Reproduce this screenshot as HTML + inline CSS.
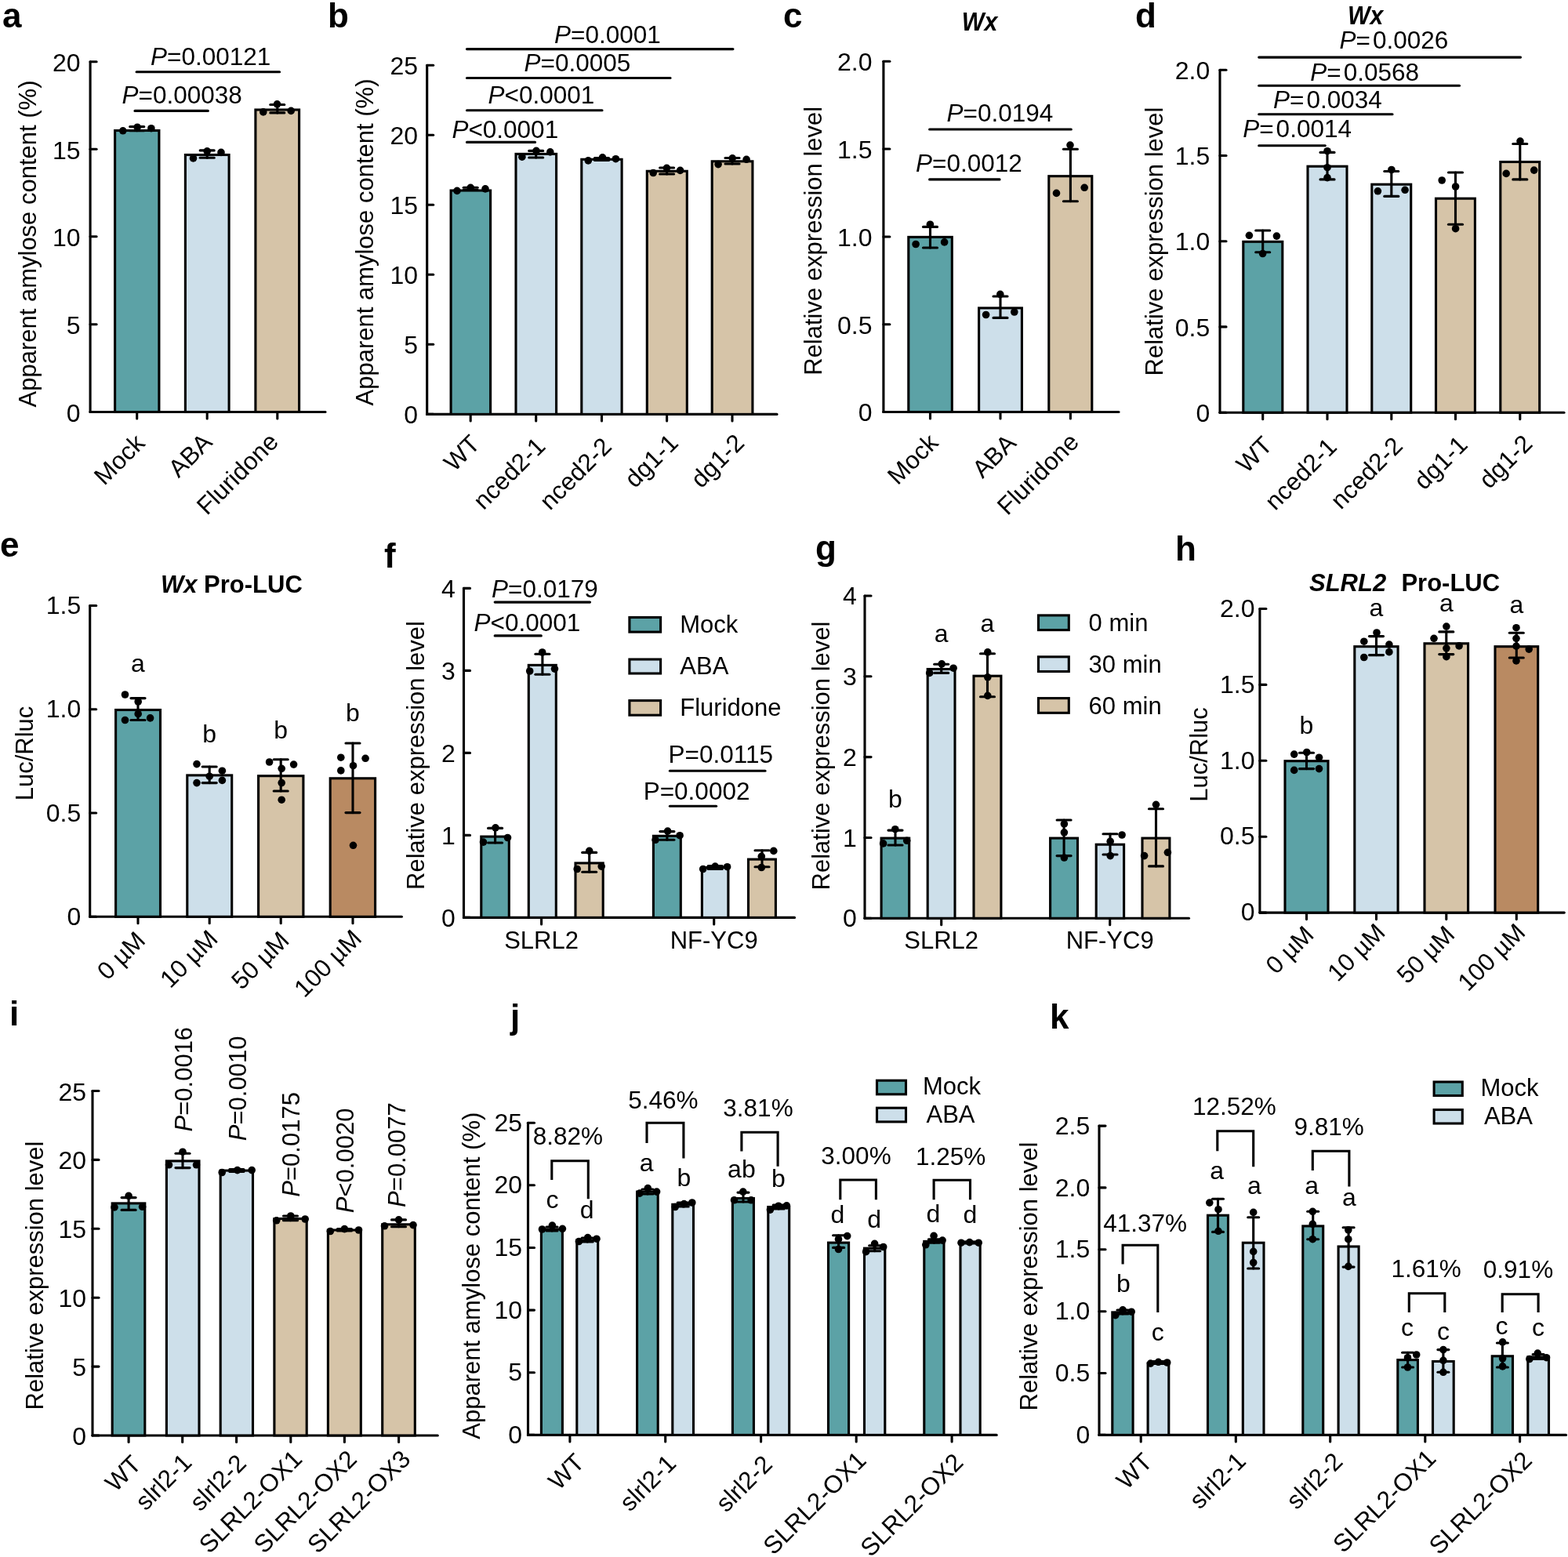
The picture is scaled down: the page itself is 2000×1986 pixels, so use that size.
<!DOCTYPE html><html><head><meta charset="utf-8"><title>Figure</title><style>html,body{margin:0;padding:0;background:#fff;}svg{display:block;}text{font-family:'Liberation Sans', Arial, sans-serif;fill:#000;}</style></head><body>
<svg width="2000" height="1986" viewBox="0 0 2000 1986">
<rect width="2000" height="1986" fill="#fff"/>
<text x="3.0" y="34.5" font-size="44" font-weight="bold">a</text>
<line x1="115.1" y1="78.8" x2="115.1" y2="525.5" stroke="#000" stroke-width="3.1" stroke-linecap="round"/>
<line x1="115.1" y1="78.8" x2="123.1" y2="78.8" stroke="#000" stroke-width="3.1" stroke-linecap="round"/>
<text x="102.6" y="91.1" font-size="32" text-anchor="end">20</text>
<line x1="115.1" y1="190.2" x2="123.1" y2="190.2" stroke="#000" stroke-width="3.1" stroke-linecap="round"/>
<text x="102.6" y="202.5" font-size="32" text-anchor="end">15</text>
<line x1="115.1" y1="301.8" x2="123.1" y2="301.8" stroke="#000" stroke-width="3.1" stroke-linecap="round"/>
<text x="102.6" y="314.1" font-size="32" text-anchor="end">10</text>
<line x1="115.1" y1="413.8" x2="123.1" y2="413.8" stroke="#000" stroke-width="3.1" stroke-linecap="round"/>
<text x="102.6" y="426.1" font-size="32" text-anchor="end">5</text>
<line x1="115.1" y1="525.5" x2="123.1" y2="525.5" stroke="#000" stroke-width="3.1" stroke-linecap="round"/>
<text x="102.6" y="537.8" font-size="32" text-anchor="end">0</text>
<line x1="115.1" y1="525.5" x2="415.0" y2="525.5" stroke="#000" stroke-width="3.1" stroke-linecap="round"/>
<line x1="174.7" y1="525.5" x2="174.7" y2="534.0" stroke="#000" stroke-width="3.1" stroke-linecap="round"/>
<line x1="264.2" y1="525.5" x2="264.2" y2="534.0" stroke="#000" stroke-width="3.1" stroke-linecap="round"/>
<line x1="353.8" y1="525.5" x2="353.8" y2="534.0" stroke="#000" stroke-width="3.1" stroke-linecap="round"/>
<rect x="146.6" y="166.5" width="56.3" height="359.0" fill="#5CA2A6" stroke="#000" stroke-width="3.1"/>
<rect x="236.4" y="197.5" width="55.7" height="328.0" fill="#CDDFEA" stroke="#000" stroke-width="3.1"/>
<rect x="325.9" y="140.0" width="55.7" height="385.5" fill="#D6C4A8" stroke="#000" stroke-width="3.1"/>
<line x1="174.7" y1="161.6" x2="174.7" y2="166.8" stroke="#000" stroke-width="3.1" stroke-linecap="round"/>
<line x1="165.7" y1="161.6" x2="183.7" y2="161.6" stroke="#000" stroke-width="3.1" stroke-linecap="round"/>
<line x1="165.7" y1="166.8" x2="183.7" y2="166.8" stroke="#000" stroke-width="3.1" stroke-linecap="round"/>
<circle cx="156.8" cy="166.8" r="4.8" fill="#000"/>
<circle cx="175.2" cy="162.2" r="4.8" fill="#000"/>
<circle cx="192.9" cy="163.7" r="4.8" fill="#000"/>
<line x1="264.2" y1="191.9" x2="264.2" y2="201.3" stroke="#000" stroke-width="3.1" stroke-linecap="round"/>
<line x1="255.2" y1="191.9" x2="273.2" y2="191.9" stroke="#000" stroke-width="3.1" stroke-linecap="round"/>
<line x1="255.2" y1="201.3" x2="273.2" y2="201.3" stroke="#000" stroke-width="3.1" stroke-linecap="round"/>
<circle cx="246.5" cy="201.9" r="4.8" fill="#000"/>
<circle cx="264.2" cy="192.9" r="4.8" fill="#000"/>
<circle cx="282.0" cy="194.4" r="4.8" fill="#000"/>
<line x1="353.8" y1="133.5" x2="353.8" y2="143.9" stroke="#000" stroke-width="3.1" stroke-linecap="round"/>
<line x1="344.8" y1="133.5" x2="362.8" y2="133.5" stroke="#000" stroke-width="3.1" stroke-linecap="round"/>
<line x1="344.8" y1="143.9" x2="362.8" y2="143.9" stroke="#000" stroke-width="3.1" stroke-linecap="round"/>
<circle cx="335.8" cy="142.9" r="4.8" fill="#000"/>
<circle cx="353.5" cy="132.8" r="4.8" fill="#000"/>
<circle cx="371.2" cy="141.4" r="4.8" fill="#000"/>
<line x1="174.1" y1="91.8" x2="356.6" y2="91.8" stroke="#000" stroke-width="3.1" stroke-linecap="round"/>
<text x="192.0" y="83.0" font-size="31.5"><tspan font-style="italic">P</tspan>=0.00121</text>
<line x1="172.0" y1="141.4" x2="265.3" y2="141.4" stroke="#000" stroke-width="3.1" stroke-linecap="round"/>
<text x="155.5" y="131.8" font-size="31.5"><tspan font-style="italic">P</tspan>=0.00038</text>
<text x="45.7" y="311.0" font-size="31" text-anchor="middle" transform="rotate(-90 45.7 311.0)">Apparent amylose content (%)</text>
<text x="186.3" y="567.0" font-size="31.5" text-anchor="end" transform="rotate(-45 186.3 567.0)">Mock</text>
<text x="272.4" y="566.0" font-size="31.5" text-anchor="end" transform="rotate(-45 272.4 566.0)">ABA</text>
<text x="356.8" y="565.4" font-size="31.5" text-anchor="end" transform="rotate(-45 356.8 565.4)">Fluridone</text>
<text x="418.0" y="34.5" font-size="44" font-weight="bold">b</text>
<line x1="544.7" y1="83.3" x2="544.7" y2="528.4" stroke="#000" stroke-width="3.1" stroke-linecap="round"/>
<line x1="544.7" y1="83.3" x2="552.7" y2="83.3" stroke="#000" stroke-width="3.1" stroke-linecap="round"/>
<text x="533.1" y="95.1" font-size="32" text-anchor="end">25</text>
<line x1="544.7" y1="172.3" x2="552.7" y2="172.3" stroke="#000" stroke-width="3.1" stroke-linecap="round"/>
<text x="533.1" y="184.1" font-size="32" text-anchor="end">20</text>
<line x1="544.7" y1="261.2" x2="552.7" y2="261.2" stroke="#000" stroke-width="3.1" stroke-linecap="round"/>
<text x="533.1" y="273.0" font-size="32" text-anchor="end">15</text>
<line x1="544.7" y1="350.3" x2="552.7" y2="350.3" stroke="#000" stroke-width="3.1" stroke-linecap="round"/>
<text x="533.1" y="362.1" font-size="32" text-anchor="end">10</text>
<line x1="544.7" y1="439.3" x2="552.7" y2="439.3" stroke="#000" stroke-width="3.1" stroke-linecap="round"/>
<text x="533.1" y="451.1" font-size="32" text-anchor="end">5</text>
<line x1="544.7" y1="528.4" x2="552.7" y2="528.4" stroke="#000" stroke-width="3.1" stroke-linecap="round"/>
<text x="533.1" y="540.2" font-size="32" text-anchor="end">0</text>
<line x1="544.7" y1="528.4" x2="991.0" y2="528.4" stroke="#000" stroke-width="3.1" stroke-linecap="round"/>
<line x1="600.2" y1="528.4" x2="600.2" y2="536.9" stroke="#000" stroke-width="3.1" stroke-linecap="round"/>
<line x1="683.7" y1="528.4" x2="683.7" y2="536.9" stroke="#000" stroke-width="3.1" stroke-linecap="round"/>
<line x1="767.5" y1="528.4" x2="767.5" y2="536.9" stroke="#000" stroke-width="3.1" stroke-linecap="round"/>
<line x1="850.6" y1="528.4" x2="850.6" y2="536.9" stroke="#000" stroke-width="3.1" stroke-linecap="round"/>
<line x1="934.0" y1="528.4" x2="934.0" y2="536.9" stroke="#000" stroke-width="3.1" stroke-linecap="round"/>
<rect x="575.1" y="243.0" width="50.5" height="285.4" fill="#5CA2A6" stroke="#000" stroke-width="3.1"/>
<rect x="658.0" y="196.4" width="51.6" height="332.0" fill="#CDDFEA" stroke="#000" stroke-width="3.1"/>
<rect x="741.8" y="203.3" width="51.3" height="325.1" fill="#CDDFEA" stroke="#000" stroke-width="3.1"/>
<rect x="825.3" y="218.3" width="51.0" height="310.1" fill="#D6C4A8" stroke="#000" stroke-width="3.1"/>
<rect x="908.2" y="205.8" width="51.7" height="322.6" fill="#D6C4A8" stroke="#000" stroke-width="3.1"/>
<line x1="600.2" y1="239.3" x2="600.2" y2="242.4" stroke="#000" stroke-width="3.1" stroke-linecap="round"/>
<line x1="591.2" y1="239.3" x2="609.2" y2="239.3" stroke="#000" stroke-width="3.1" stroke-linecap="round"/>
<line x1="591.2" y1="242.4" x2="609.2" y2="242.4" stroke="#000" stroke-width="3.1" stroke-linecap="round"/>
<circle cx="583.0" cy="243.4" r="4.8" fill="#000"/>
<circle cx="600.2" cy="239.3" r="4.8" fill="#000"/>
<circle cx="619.0" cy="240.9" r="4.8" fill="#000"/>
<line x1="683.7" y1="192.4" x2="683.7" y2="201.0" stroke="#000" stroke-width="3.1" stroke-linecap="round"/>
<line x1="674.7" y1="192.4" x2="692.7" y2="192.4" stroke="#000" stroke-width="3.1" stroke-linecap="round"/>
<line x1="674.7" y1="201.0" x2="692.7" y2="201.0" stroke="#000" stroke-width="3.1" stroke-linecap="round"/>
<circle cx="665.9" cy="200.2" r="4.8" fill="#000"/>
<circle cx="684.0" cy="192.4" r="4.8" fill="#000"/>
<circle cx="701.8" cy="193.9" r="4.8" fill="#000"/>
<line x1="767.5" y1="201.5" x2="767.5" y2="204.5" stroke="#000" stroke-width="3.1" stroke-linecap="round"/>
<line x1="758.5" y1="201.5" x2="776.5" y2="201.5" stroke="#000" stroke-width="3.1" stroke-linecap="round"/>
<line x1="758.5" y1="204.5" x2="776.5" y2="204.5" stroke="#000" stroke-width="3.1" stroke-linecap="round"/>
<circle cx="750.3" cy="204.9" r="4.8" fill="#000"/>
<circle cx="768.5" cy="200.8" r="4.8" fill="#000"/>
<circle cx="785.4" cy="202.7" r="4.8" fill="#000"/>
<line x1="850.6" y1="214.0" x2="850.6" y2="222.0" stroke="#000" stroke-width="3.1" stroke-linecap="round"/>
<line x1="841.6" y1="214.0" x2="859.6" y2="214.0" stroke="#000" stroke-width="3.1" stroke-linecap="round"/>
<line x1="841.6" y1="222.0" x2="859.6" y2="222.0" stroke="#000" stroke-width="3.1" stroke-linecap="round"/>
<circle cx="833.2" cy="220.5" r="4.8" fill="#000"/>
<circle cx="850.4" cy="214.3" r="4.8" fill="#000"/>
<circle cx="867.6" cy="217.4" r="4.8" fill="#000"/>
<line x1="934.0" y1="201.5" x2="934.0" y2="209.0" stroke="#000" stroke-width="3.1" stroke-linecap="round"/>
<line x1="925.0" y1="201.5" x2="943.0" y2="201.5" stroke="#000" stroke-width="3.1" stroke-linecap="round"/>
<line x1="925.0" y1="209.0" x2="943.0" y2="209.0" stroke="#000" stroke-width="3.1" stroke-linecap="round"/>
<circle cx="916.1" cy="209.6" r="4.8" fill="#000"/>
<circle cx="934.2" cy="201.8" r="4.8" fill="#000"/>
<circle cx="952.1" cy="203.3" r="4.8" fill="#000"/>
<line x1="595.5" y1="62.6" x2="934.9" y2="62.6" stroke="#000" stroke-width="3.1" stroke-linecap="round"/>
<text x="707.0" y="54.7" font-size="31.5"><tspan font-style="italic">P</tspan>=0.0001</text>
<line x1="595.5" y1="99.5" x2="855.0" y2="99.5" stroke="#000" stroke-width="3.1" stroke-linecap="round"/>
<text x="668.6" y="91.3" font-size="31.5"><tspan font-style="italic">P</tspan>=0.0005</text>
<line x1="595.5" y1="140.8" x2="768.0" y2="140.8" stroke="#000" stroke-width="3.1" stroke-linecap="round"/>
<text x="622.6" y="132.0" font-size="31.5"><tspan font-style="italic">P</tspan>&lt;0.0001</text>
<line x1="595.5" y1="181.4" x2="682.5" y2="181.4" stroke="#000" stroke-width="3.1" stroke-linecap="round"/>
<text x="576.4" y="175.8" font-size="31.5"><tspan font-style="italic">P</tspan>&lt;0.0001</text>
<text x="475.7" y="309.0" font-size="31" text-anchor="middle" transform="rotate(-90 475.7 309.0)">Apparent amylose content (%)</text>
<text x="613.9" y="568.1" font-size="31.5" text-anchor="end" transform="rotate(-45 613.9 568.1)">WT</text>
<text x="697.3" y="571.0" font-size="31.5" text-anchor="end" transform="rotate(-45 697.3 571.0)">nced2-1</text>
<text x="781.9" y="571.4" font-size="31.5" text-anchor="end" transform="rotate(-45 781.9 571.4)">nced2-2</text>
<text x="866.8" y="566.9" font-size="31.5" text-anchor="end" transform="rotate(-45 866.8 566.9)">dg1-1</text>
<text x="951.2" y="566.9" font-size="31.5" text-anchor="end" transform="rotate(-45 951.2 566.9)">dg1-2</text>
<text x="999.0" y="34.5" font-size="44" font-weight="bold">c</text>
<line x1="1126.9" y1="78.2" x2="1126.9" y2="525.5" stroke="#000" stroke-width="3.1" stroke-linecap="round"/>
<line x1="1126.9" y1="78.2" x2="1134.9" y2="78.2" stroke="#000" stroke-width="3.1" stroke-linecap="round"/>
<text x="1112.5" y="90.1" font-size="32" text-anchor="end">2.0</text>
<line x1="1126.9" y1="190.0" x2="1134.9" y2="190.0" stroke="#000" stroke-width="3.1" stroke-linecap="round"/>
<text x="1112.5" y="201.9" font-size="32" text-anchor="end">1.5</text>
<line x1="1126.9" y1="302.0" x2="1134.9" y2="302.0" stroke="#000" stroke-width="3.1" stroke-linecap="round"/>
<text x="1112.5" y="313.9" font-size="32" text-anchor="end">1.0</text>
<line x1="1126.9" y1="413.7" x2="1134.9" y2="413.7" stroke="#000" stroke-width="3.1" stroke-linecap="round"/>
<text x="1112.5" y="425.6" font-size="32" text-anchor="end">0.5</text>
<line x1="1126.9" y1="525.5" x2="1134.9" y2="525.5" stroke="#000" stroke-width="3.1" stroke-linecap="round"/>
<text x="1112.5" y="537.4" font-size="32" text-anchor="end">0</text>
<line x1="1126.9" y1="525.5" x2="1427.0" y2="525.5" stroke="#000" stroke-width="3.1" stroke-linecap="round"/>
<line x1="1186.5" y1="525.5" x2="1186.5" y2="534.0" stroke="#000" stroke-width="3.1" stroke-linecap="round"/>
<line x1="1276.0" y1="525.5" x2="1276.0" y2="534.0" stroke="#000" stroke-width="3.1" stroke-linecap="round"/>
<line x1="1365.4" y1="525.5" x2="1365.4" y2="534.0" stroke="#000" stroke-width="3.1" stroke-linecap="round"/>
<rect x="1158.8" y="302.4" width="55.5" height="223.1" fill="#5CA2A6" stroke="#000" stroke-width="3.1"/>
<rect x="1248.6" y="392.9" width="54.8" height="132.6" fill="#CDDFEA" stroke="#000" stroke-width="3.1"/>
<rect x="1337.8" y="224.7" width="55.0" height="300.8" fill="#D6C4A8" stroke="#000" stroke-width="3.1"/>
<line x1="1186.5" y1="289.4" x2="1186.5" y2="316.0" stroke="#000" stroke-width="3.1" stroke-linecap="round"/>
<line x1="1177.5" y1="289.4" x2="1195.5" y2="289.4" stroke="#000" stroke-width="3.1" stroke-linecap="round"/>
<line x1="1177.5" y1="316.0" x2="1195.5" y2="316.0" stroke="#000" stroke-width="3.1" stroke-linecap="round"/>
<circle cx="1168.1" cy="311.5" r="4.8" fill="#000"/>
<circle cx="1186.4" cy="286.2" r="4.8" fill="#000"/>
<circle cx="1204.6" cy="308.9" r="4.8" fill="#000"/>
<line x1="1276.0" y1="378.0" x2="1276.0" y2="405.4" stroke="#000" stroke-width="3.1" stroke-linecap="round"/>
<line x1="1267.0" y1="378.0" x2="1285.0" y2="378.0" stroke="#000" stroke-width="3.1" stroke-linecap="round"/>
<line x1="1267.0" y1="405.4" x2="1285.0" y2="405.4" stroke="#000" stroke-width="3.1" stroke-linecap="round"/>
<circle cx="1257.6" cy="401.5" r="4.8" fill="#000"/>
<circle cx="1275.8" cy="375.4" r="4.8" fill="#000"/>
<circle cx="1293.8" cy="398.0" r="4.8" fill="#000"/>
<line x1="1365.4" y1="190.3" x2="1365.4" y2="256.8" stroke="#000" stroke-width="3.1" stroke-linecap="round"/>
<line x1="1356.4" y1="190.3" x2="1374.4" y2="190.3" stroke="#000" stroke-width="3.1" stroke-linecap="round"/>
<line x1="1356.4" y1="256.8" x2="1374.4" y2="256.8" stroke="#000" stroke-width="3.1" stroke-linecap="round"/>
<circle cx="1347.5" cy="246.4" r="4.8" fill="#000"/>
<circle cx="1365.0" cy="185.1" r="4.8" fill="#000"/>
<circle cx="1383.2" cy="239.3" r="4.8" fill="#000"/>
<line x1="1185.6" y1="165.0" x2="1366.3" y2="165.0" stroke="#000" stroke-width="3.1" stroke-linecap="round"/>
<text x="1207.5" y="155.1" font-size="31.5"><tspan font-style="italic">P</tspan>=0.0194</text>
<line x1="1185.6" y1="228.9" x2="1275.0" y2="228.9" stroke="#000" stroke-width="3.1" stroke-linecap="round"/>
<text x="1168.0" y="218.5" font-size="31.5"><tspan font-style="italic">P</tspan>=0.0012</text>
<text x="1226.8" y="39.0" font-size="32.5" font-weight="bold" font-style="italic" textLength="45.6" lengthAdjust="spacingAndGlyphs">Wx</text>
<text x="1048.0" y="307.3" font-size="31" text-anchor="middle" transform="rotate(-90 1048.0 307.3)">Relative expression level</text>
<text x="1198.3" y="566.5" font-size="31.5" text-anchor="end" transform="rotate(-45 1198.3 566.5)">Mock</text>
<text x="1297.8" y="566.8" font-size="31.5" text-anchor="end" transform="rotate(-45 1297.8 566.8)">ABA</text>
<text x="1377.9" y="565.6" font-size="31.5" text-anchor="end" transform="rotate(-45 1377.9 565.6)">Fluridone</text>
<text x="1448.0" y="34.5" font-size="44" font-weight="bold">d</text>
<line x1="1556.0" y1="89.3" x2="1556.0" y2="526.2" stroke="#000" stroke-width="3.1" stroke-linecap="round"/>
<line x1="1556.0" y1="89.3" x2="1564.0" y2="89.3" stroke="#000" stroke-width="3.1" stroke-linecap="round"/>
<text x="1543.3" y="100.9" font-size="32" text-anchor="end">2.0</text>
<line x1="1556.0" y1="198.5" x2="1564.0" y2="198.5" stroke="#000" stroke-width="3.1" stroke-linecap="round"/>
<text x="1543.3" y="210.1" font-size="32" text-anchor="end">1.5</text>
<line x1="1556.0" y1="307.7" x2="1564.0" y2="307.7" stroke="#000" stroke-width="3.1" stroke-linecap="round"/>
<text x="1543.3" y="319.3" font-size="32" text-anchor="end">1.0</text>
<line x1="1556.0" y1="416.9" x2="1564.0" y2="416.9" stroke="#000" stroke-width="3.1" stroke-linecap="round"/>
<text x="1543.3" y="428.5" font-size="32" text-anchor="end">0.5</text>
<line x1="1556.0" y1="526.2" x2="1564.0" y2="526.2" stroke="#000" stroke-width="3.1" stroke-linecap="round"/>
<text x="1543.3" y="537.8" font-size="32" text-anchor="end">0</text>
<line x1="1556.0" y1="526.2" x2="1995.0" y2="526.2" stroke="#000" stroke-width="3.1" stroke-linecap="round"/>
<line x1="1610.7" y1="526.2" x2="1610.7" y2="534.7" stroke="#000" stroke-width="3.1" stroke-linecap="round"/>
<line x1="1693.0" y1="526.2" x2="1693.0" y2="534.7" stroke="#000" stroke-width="3.1" stroke-linecap="round"/>
<line x1="1774.8" y1="526.2" x2="1774.8" y2="534.7" stroke="#000" stroke-width="3.1" stroke-linecap="round"/>
<line x1="1856.5" y1="526.2" x2="1856.5" y2="534.7" stroke="#000" stroke-width="3.1" stroke-linecap="round"/>
<line x1="1938.8" y1="526.2" x2="1938.8" y2="534.7" stroke="#000" stroke-width="3.1" stroke-linecap="round"/>
<rect x="1585.8" y="308.3" width="50.0" height="217.9" fill="#5CA2A6" stroke="#000" stroke-width="3.1"/>
<rect x="1668.0" y="212.2" width="50.0" height="314.0" fill="#CDDFEA" stroke="#000" stroke-width="3.1"/>
<rect x="1749.8" y="235.2" width="49.9" height="291.0" fill="#CDDFEA" stroke="#000" stroke-width="3.1"/>
<rect x="1831.5" y="253.2" width="49.9" height="273.0" fill="#D6C4A8" stroke="#000" stroke-width="3.1"/>
<rect x="1913.8" y="206.5" width="49.9" height="319.7" fill="#D6C4A8" stroke="#000" stroke-width="3.1"/>
<line x1="1610.7" y1="294.0" x2="1610.7" y2="321.8" stroke="#000" stroke-width="3.1" stroke-linecap="round"/>
<line x1="1601.7" y1="294.0" x2="1619.7" y2="294.0" stroke="#000" stroke-width="3.1" stroke-linecap="round"/>
<line x1="1601.7" y1="321.8" x2="1619.7" y2="321.8" stroke="#000" stroke-width="3.1" stroke-linecap="round"/>
<circle cx="1593.4" cy="300.3" r="4.8" fill="#000"/>
<circle cx="1610.6" cy="323.5" r="4.8" fill="#000"/>
<circle cx="1628.4" cy="301.1" r="4.8" fill="#000"/>
<line x1="1693.0" y1="194.4" x2="1693.0" y2="228.9" stroke="#000" stroke-width="3.1" stroke-linecap="round"/>
<line x1="1684.0" y1="194.4" x2="1702.0" y2="194.4" stroke="#000" stroke-width="3.1" stroke-linecap="round"/>
<line x1="1684.0" y1="228.9" x2="1702.0" y2="228.9" stroke="#000" stroke-width="3.1" stroke-linecap="round"/>
<circle cx="1693.0" cy="192.7" r="4.8" fill="#000"/>
<circle cx="1693.0" cy="213.7" r="4.8" fill="#000"/>
<circle cx="1693.0" cy="226.6" r="4.8" fill="#000"/>
<line x1="1774.8" y1="218.5" x2="1774.8" y2="250.4" stroke="#000" stroke-width="3.1" stroke-linecap="round"/>
<line x1="1765.8" y1="218.5" x2="1783.8" y2="218.5" stroke="#000" stroke-width="3.1" stroke-linecap="round"/>
<line x1="1765.8" y1="250.4" x2="1783.8" y2="250.4" stroke="#000" stroke-width="3.1" stroke-linecap="round"/>
<circle cx="1757.4" cy="243.8" r="4.8" fill="#000"/>
<circle cx="1774.9" cy="216.5" r="4.8" fill="#000"/>
<circle cx="1792.1" cy="242.3" r="4.8" fill="#000"/>
<line x1="1856.5" y1="220.0" x2="1856.5" y2="286.2" stroke="#000" stroke-width="3.1" stroke-linecap="round"/>
<line x1="1847.5" y1="220.0" x2="1865.5" y2="220.0" stroke="#000" stroke-width="3.1" stroke-linecap="round"/>
<line x1="1847.5" y1="286.2" x2="1865.5" y2="286.2" stroke="#000" stroke-width="3.1" stroke-linecap="round"/>
<circle cx="1839.2" cy="230.0" r="4.8" fill="#000"/>
<circle cx="1856.6" cy="238.0" r="4.8" fill="#000"/>
<circle cx="1856.6" cy="291.7" r="4.8" fill="#000"/>
<line x1="1938.8" y1="183.5" x2="1938.8" y2="228.9" stroke="#000" stroke-width="3.1" stroke-linecap="round"/>
<line x1="1929.8" y1="183.5" x2="1947.8" y2="183.5" stroke="#000" stroke-width="3.1" stroke-linecap="round"/>
<line x1="1929.8" y1="228.9" x2="1947.8" y2="228.9" stroke="#000" stroke-width="3.1" stroke-linecap="round"/>
<circle cx="1921.2" cy="221.4" r="4.8" fill="#000"/>
<circle cx="1939.0" cy="180.1" r="4.8" fill="#000"/>
<circle cx="1956.7" cy="217.1" r="4.8" fill="#000"/>
<line x1="1605.7" y1="73.1" x2="1939.5" y2="73.1" stroke="#000" stroke-width="3.1" stroke-linecap="round"/>
<text x="1708.5" y="61.7" font-size="31.5"><tspan font-style="italic">P</tspan>=<tspan dx="3">0.0026</tspan></text>
<line x1="1605.7" y1="109.3" x2="1861.5" y2="109.3" stroke="#000" stroke-width="3.1" stroke-linecap="round"/>
<text x="1671.3" y="102.7" font-size="31.5"><tspan font-style="italic">P</tspan>=<tspan dx="3">0.0568</tspan></text>
<line x1="1605.7" y1="145.7" x2="1776.0" y2="145.7" stroke="#000" stroke-width="3.1" stroke-linecap="round"/>
<text x="1624.0" y="138.2" font-size="31.5"><tspan font-style="italic">P</tspan>=<tspan dx="3">0.0034</tspan></text>
<line x1="1605.7" y1="185.8" x2="1690.3" y2="185.8" stroke="#000" stroke-width="3.1" stroke-linecap="round"/>
<text x="1585.2" y="175.0" font-size="31.5"><tspan font-style="italic">P</tspan>=<tspan dx="3">0.0014</tspan></text>
<text x="1719.0" y="30.6" font-size="32.5" font-weight="bold" font-style="italic" textLength="45.4" lengthAdjust="spacingAndGlyphs">Wx</text>
<text x="1483.3" y="308.0" font-size="31" text-anchor="middle" transform="rotate(-90 1483.3 308.0)">Relative expression level</text>
<text x="1624.7" y="570.0" font-size="31.5" text-anchor="end" transform="rotate(-45 1624.7 570.0)">WT</text>
<text x="1707.0" y="571.8" font-size="31.5" text-anchor="end" transform="rotate(-45 1707.0 571.8)">nced2-1</text>
<text x="1790.8" y="570.6" font-size="31.5" text-anchor="end" transform="rotate(-45 1790.8 570.6)">nced2-2</text>
<text x="1873.6" y="569.2" font-size="31.5" text-anchor="end" transform="rotate(-45 1873.6 569.2)">dg1-1</text>
<text x="1956.4" y="567.8" font-size="31.5" text-anchor="end" transform="rotate(-45 1956.4 567.8)">dg1-2</text>
<text x="0.0" y="710.0" font-size="44" font-weight="bold">e</text>
<line x1="114.7" y1="772.5" x2="114.7" y2="1169.3" stroke="#000" stroke-width="3.1" stroke-linecap="round"/>
<line x1="114.7" y1="772.5" x2="122.7" y2="772.5" stroke="#000" stroke-width="3.1" stroke-linecap="round"/>
<text x="103.2" y="783.1" font-size="32" text-anchor="end">1.5</text>
<line x1="114.7" y1="904.8" x2="122.7" y2="904.8" stroke="#000" stroke-width="3.1" stroke-linecap="round"/>
<text x="103.2" y="915.4" font-size="32" text-anchor="end">1.0</text>
<line x1="114.7" y1="1037.0" x2="122.7" y2="1037.0" stroke="#000" stroke-width="3.1" stroke-linecap="round"/>
<text x="103.2" y="1047.6" font-size="32" text-anchor="end">0.5</text>
<line x1="114.7" y1="1169.3" x2="122.7" y2="1169.3" stroke="#000" stroke-width="3.1" stroke-linecap="round"/>
<text x="103.2" y="1179.9" font-size="32" text-anchor="end">0</text>
<line x1="114.7" y1="1169.3" x2="512.4" y2="1169.3" stroke="#000" stroke-width="3.1" stroke-linecap="round"/>
<line x1="176.0" y1="1169.3" x2="176.0" y2="1177.8" stroke="#000" stroke-width="3.1" stroke-linecap="round"/>
<line x1="267.2" y1="1169.3" x2="267.2" y2="1177.8" stroke="#000" stroke-width="3.1" stroke-linecap="round"/>
<line x1="358.2" y1="1169.3" x2="358.2" y2="1177.8" stroke="#000" stroke-width="3.1" stroke-linecap="round"/>
<line x1="450.0" y1="1169.3" x2="450.0" y2="1177.8" stroke="#000" stroke-width="3.1" stroke-linecap="round"/>
<rect x="147.6" y="905.5" width="56.9" height="263.8" fill="#5CA2A6" stroke="#000" stroke-width="3.1"/>
<rect x="238.8" y="988.9" width="56.9" height="180.4" fill="#CDDFEA" stroke="#000" stroke-width="3.1"/>
<rect x="329.6" y="989.7" width="57.3" height="179.6" fill="#D6C4A8" stroke="#000" stroke-width="3.1"/>
<rect x="421.2" y="992.8" width="57.4" height="176.5" fill="#B98A62" stroke="#000" stroke-width="3.1"/>
<line x1="176.0" y1="890.6" x2="176.0" y2="918.5" stroke="#000" stroke-width="3.1" stroke-linecap="round"/>
<line x1="167.0" y1="890.6" x2="185.0" y2="890.6" stroke="#000" stroke-width="3.1" stroke-linecap="round"/>
<line x1="167.0" y1="918.5" x2="185.0" y2="918.5" stroke="#000" stroke-width="3.1" stroke-linecap="round"/>
<circle cx="159.5" cy="886.0" r="4.8" fill="#000"/>
<circle cx="176.2" cy="895.0" r="4.8" fill="#000"/>
<circle cx="176.2" cy="910.7" r="4.8" fill="#000"/>
<circle cx="159.5" cy="918.5" r="4.8" fill="#000"/>
<circle cx="191.6" cy="915.9" r="4.8" fill="#000"/>
<line x1="267.2" y1="978.0" x2="267.2" y2="998.6" stroke="#000" stroke-width="3.1" stroke-linecap="round"/>
<line x1="258.2" y1="978.0" x2="276.2" y2="978.0" stroke="#000" stroke-width="3.1" stroke-linecap="round"/>
<line x1="258.2" y1="998.6" x2="276.2" y2="998.6" stroke="#000" stroke-width="3.1" stroke-linecap="round"/>
<circle cx="251.0" cy="974.6" r="4.8" fill="#000"/>
<circle cx="283.4" cy="983.2" r="4.8" fill="#000"/>
<circle cx="267.2" cy="990.2" r="4.8" fill="#000"/>
<circle cx="251.0" cy="998.6" r="4.8" fill="#000"/>
<circle cx="283.4" cy="995.4" r="4.8" fill="#000"/>
<line x1="358.2" y1="968.8" x2="358.2" y2="1009.0" stroke="#000" stroke-width="3.1" stroke-linecap="round"/>
<line x1="349.2" y1="968.8" x2="367.2" y2="968.8" stroke="#000" stroke-width="3.1" stroke-linecap="round"/>
<line x1="349.2" y1="1009.0" x2="367.2" y2="1009.0" stroke="#000" stroke-width="3.1" stroke-linecap="round"/>
<circle cx="343.6" cy="972.0" r="4.8" fill="#000"/>
<circle cx="374.6" cy="975.1" r="4.8" fill="#000"/>
<circle cx="359.2" cy="980.3" r="4.8" fill="#000"/>
<circle cx="359.2" cy="998.6" r="4.8" fill="#000"/>
<circle cx="359.2" cy="1020.2" r="4.8" fill="#000"/>
<line x1="450.0" y1="948.0" x2="450.0" y2="1036.6" stroke="#000" stroke-width="3.1" stroke-linecap="round"/>
<line x1="441.0" y1="948.0" x2="459.0" y2="948.0" stroke="#000" stroke-width="3.1" stroke-linecap="round"/>
<line x1="441.0" y1="1036.6" x2="459.0" y2="1036.6" stroke="#000" stroke-width="3.1" stroke-linecap="round"/>
<circle cx="434.8" cy="966.2" r="4.8" fill="#000"/>
<circle cx="466.1" cy="967.3" r="4.8" fill="#000"/>
<circle cx="450.5" cy="976.7" r="4.8" fill="#000"/>
<circle cx="434.8" cy="982.9" r="4.8" fill="#000"/>
<circle cx="450.5" cy="1078.3" r="4.8" fill="#000"/>
<text x="176.0" y="856.7" font-size="32" text-anchor="middle">a</text>
<text x="267.2" y="947.2" font-size="32" text-anchor="middle">b</text>
<text x="358.2" y="941.5" font-size="32" text-anchor="middle">b</text>
<text x="450.0" y="919.8" font-size="32" text-anchor="middle">b</text>
<text x="205" y="755.6" font-size="31" font-weight="bold"><tspan font-style="italic">Wx</tspan> Pro-LUC</text>
<text x="41.7" y="961.0" font-size="31" text-anchor="middle" transform="rotate(-90 41.7 961.0)">Luc/Rluc</text>
<text x="187.0" y="1201.5" font-size="31.5" text-anchor="end" transform="rotate(-45 187.0 1201.5)">0 µM</text>
<text x="279.5" y="1199.5" font-size="31.5" text-anchor="end" transform="rotate(-45 279.5 1199.5)">10 µM</text>
<text x="370.6" y="1201.4" font-size="31.5" text-anchor="end" transform="rotate(-45 370.6 1201.4)">50 µM</text>
<text x="463.0" y="1198.9" font-size="31.5" text-anchor="end" transform="rotate(-45 463.0 1198.9)">100 µM</text>
<text x="490.0" y="723.6" font-size="44" font-weight="bold">f</text>
<line x1="591.5" y1="750.4" x2="591.5" y2="1170.4" stroke="#000" stroke-width="3.1" stroke-linecap="round"/>
<line x1="591.5" y1="750.4" x2="599.5" y2="750.4" stroke="#000" stroke-width="3.1" stroke-linecap="round"/>
<text x="580.7" y="762.0" font-size="32" text-anchor="end">4</text>
<line x1="591.5" y1="855.4" x2="599.5" y2="855.4" stroke="#000" stroke-width="3.1" stroke-linecap="round"/>
<text x="580.7" y="867.0" font-size="32" text-anchor="end">3</text>
<line x1="591.5" y1="960.4" x2="599.5" y2="960.4" stroke="#000" stroke-width="3.1" stroke-linecap="round"/>
<text x="580.7" y="972.0" font-size="32" text-anchor="end">2</text>
<line x1="591.5" y1="1065.4" x2="599.5" y2="1065.4" stroke="#000" stroke-width="3.1" stroke-linecap="round"/>
<text x="580.7" y="1077.0" font-size="32" text-anchor="end">1</text>
<line x1="591.5" y1="1170.4" x2="599.5" y2="1170.4" stroke="#000" stroke-width="3.1" stroke-linecap="round"/>
<text x="580.7" y="1182.0" font-size="32" text-anchor="end">0</text>
<line x1="591.5" y1="1170.4" x2="1013.5" y2="1170.4" stroke="#000" stroke-width="3.1" stroke-linecap="round"/>
<line x1="690.6" y1="1170.4" x2="690.6" y2="1178.9" stroke="#000" stroke-width="3.1" stroke-linecap="round"/>
<line x1="910.7" y1="1170.4" x2="910.7" y2="1178.9" stroke="#000" stroke-width="3.1" stroke-linecap="round"/>
<rect x="613.8" y="1067.1" width="35.5" height="103.3" fill="#5CA2A6" stroke="#000" stroke-width="3.1"/>
<rect x="674.3" y="848.4" width="35.0" height="322.0" fill="#CDDFEA" stroke="#000" stroke-width="3.1"/>
<rect x="734.0" y="1100.9" width="35.2" height="69.5" fill="#D6C4A8" stroke="#000" stroke-width="3.1"/>
<rect x="833.4" y="1066.3" width="34.9" height="104.1" fill="#5CA2A6" stroke="#000" stroke-width="3.1"/>
<rect x="895.4" y="1106.5" width="33.5" height="63.9" fill="#CDDFEA" stroke="#000" stroke-width="3.1"/>
<rect x="954.5" y="1096.1" width="34.9" height="74.3" fill="#D6C4A8" stroke="#000" stroke-width="3.1"/>
<line x1="631.6" y1="1056.4" x2="631.6" y2="1075.0" stroke="#000" stroke-width="3.1" stroke-linecap="round"/>
<line x1="622.6" y1="1056.4" x2="640.6" y2="1056.4" stroke="#000" stroke-width="3.1" stroke-linecap="round"/>
<line x1="622.6" y1="1075.0" x2="640.6" y2="1075.0" stroke="#000" stroke-width="3.1" stroke-linecap="round"/>
<circle cx="616.5" cy="1074.1" r="4.8" fill="#000"/>
<circle cx="632.0" cy="1055.8" r="4.8" fill="#000"/>
<circle cx="647.5" cy="1068.5" r="4.8" fill="#000"/>
<line x1="691.9" y1="834.3" x2="691.9" y2="860.2" stroke="#000" stroke-width="3.1" stroke-linecap="round"/>
<line x1="682.9" y1="834.3" x2="700.9" y2="834.3" stroke="#000" stroke-width="3.1" stroke-linecap="round"/>
<line x1="682.9" y1="860.2" x2="700.9" y2="860.2" stroke="#000" stroke-width="3.1" stroke-linecap="round"/>
<circle cx="675.7" cy="856.0" r="4.8" fill="#000"/>
<circle cx="691.7" cy="832.0" r="4.8" fill="#000"/>
<circle cx="707.5" cy="853.1" r="4.8" fill="#000"/>
<line x1="751.7" y1="1087.4" x2="751.7" y2="1112.2" stroke="#000" stroke-width="3.1" stroke-linecap="round"/>
<line x1="742.7" y1="1087.4" x2="760.7" y2="1087.4" stroke="#000" stroke-width="3.1" stroke-linecap="round"/>
<line x1="742.7" y1="1112.2" x2="760.7" y2="1112.2" stroke="#000" stroke-width="3.1" stroke-linecap="round"/>
<circle cx="736.2" cy="1108.5" r="4.8" fill="#000"/>
<circle cx="751.7" cy="1085.4" r="4.8" fill="#000"/>
<circle cx="767.2" cy="1105.1" r="4.8" fill="#000"/>
<line x1="850.9" y1="1060.6" x2="850.9" y2="1071.3" stroke="#000" stroke-width="3.1" stroke-linecap="round"/>
<line x1="841.9" y1="1060.6" x2="859.9" y2="1060.6" stroke="#000" stroke-width="3.1" stroke-linecap="round"/>
<line x1="841.9" y1="1071.3" x2="859.9" y2="1071.3" stroke="#000" stroke-width="3.1" stroke-linecap="round"/>
<circle cx="836.1" cy="1071.3" r="4.8" fill="#000"/>
<circle cx="851.6" cy="1060.1" r="4.8" fill="#000"/>
<circle cx="867.1" cy="1065.7" r="4.8" fill="#000"/>
<line x1="912.2" y1="1104.5" x2="912.2" y2="1108.5" stroke="#000" stroke-width="3.1" stroke-linecap="round"/>
<line x1="903.2" y1="1104.5" x2="921.2" y2="1104.5" stroke="#000" stroke-width="3.1" stroke-linecap="round"/>
<line x1="903.2" y1="1108.5" x2="921.2" y2="1108.5" stroke="#000" stroke-width="3.1" stroke-linecap="round"/>
<circle cx="896.7" cy="1108.5" r="4.8" fill="#000"/>
<circle cx="912.2" cy="1105.1" r="4.8" fill="#000"/>
<circle cx="927.6" cy="1105.7" r="4.8" fill="#000"/>
<line x1="972.0" y1="1084.8" x2="972.0" y2="1105.7" stroke="#000" stroke-width="3.1" stroke-linecap="round"/>
<line x1="963.0" y1="1084.8" x2="981.0" y2="1084.8" stroke="#000" stroke-width="3.1" stroke-linecap="round"/>
<line x1="963.0" y1="1105.7" x2="981.0" y2="1105.7" stroke="#000" stroke-width="3.1" stroke-linecap="round"/>
<circle cx="971.3" cy="1092.4" r="4.8" fill="#000"/>
<circle cx="971.3" cy="1106.5" r="4.8" fill="#000"/>
<circle cx="986.8" cy="1085.4" r="4.8" fill="#000"/>
<line x1="631.2" y1="768.1" x2="752.5" y2="768.1" stroke="#000" stroke-width="3.1" stroke-linecap="round"/>
<text x="627.0" y="761.6" font-size="31.5"><tspan font-style="italic">P</tspan>=0.0179</text>
<line x1="631.2" y1="810.9" x2="690.3" y2="810.9" stroke="#000" stroke-width="3.1" stroke-linecap="round"/>
<text x="604.5" y="804.7" font-size="31.5"><tspan font-style="italic">P</tspan>&lt;0.0001</text>
<line x1="854.4" y1="983.2" x2="976.0" y2="983.2" stroke="#000" stroke-width="3.1" stroke-linecap="round"/>
<text x="852.5" y="972.8" font-size="31.5">P=0.0115</text>
<line x1="854.4" y1="1028.3" x2="913.6" y2="1028.3" stroke="#000" stroke-width="3.1" stroke-linecap="round"/>
<text x="820.7" y="1019.8" font-size="31.5">P=0.0002</text>
<rect x="802.9" y="787.5" width="39.7" height="18.6" fill="#5CA2A6" stroke="#000" stroke-width="3.1"/>
<text x="867.3" y="807.3" font-size="31">Mock</text>
<rect x="802.9" y="841.0" width="39.7" height="18.0" fill="#CDDFEA" stroke="#000" stroke-width="3.1"/>
<text x="867.3" y="859.6" font-size="31">ABA</text>
<rect x="802.9" y="893.6" width="39.7" height="18.6" fill="#D6C4A8" stroke="#000" stroke-width="3.1"/>
<text x="867.3" y="913.1" font-size="31">Fluridone</text>
<text x="540.7" y="963.5" font-size="31" text-anchor="middle" transform="rotate(-90 540.7 963.5)">Relative expression level</text>
<text x="690.6" y="1210.0" font-size="31" text-anchor="middle">SLRL2</text>
<text x="910.7" y="1210.0" font-size="31" text-anchor="middle">NF-YC9</text>
<text x="1040.0" y="714.0" font-size="44" font-weight="bold">g</text>
<line x1="1103.0" y1="760.0" x2="1103.0" y2="1171.3" stroke="#000" stroke-width="3.1" stroke-linecap="round"/>
<line x1="1103.0" y1="760.0" x2="1111.0" y2="760.0" stroke="#000" stroke-width="3.1" stroke-linecap="round"/>
<text x="1092.8" y="771.0" font-size="32" text-anchor="end">4</text>
<line x1="1103.0" y1="862.8" x2="1111.0" y2="862.8" stroke="#000" stroke-width="3.1" stroke-linecap="round"/>
<text x="1092.8" y="873.8" font-size="32" text-anchor="end">3</text>
<line x1="1103.0" y1="965.6" x2="1111.0" y2="965.6" stroke="#000" stroke-width="3.1" stroke-linecap="round"/>
<text x="1092.8" y="976.6" font-size="32" text-anchor="end">2</text>
<line x1="1103.0" y1="1068.5" x2="1111.0" y2="1068.5" stroke="#000" stroke-width="3.1" stroke-linecap="round"/>
<text x="1092.8" y="1079.5" font-size="32" text-anchor="end">1</text>
<line x1="1103.0" y1="1171.3" x2="1111.0" y2="1171.3" stroke="#000" stroke-width="3.1" stroke-linecap="round"/>
<text x="1092.8" y="1182.3" font-size="32" text-anchor="end">0</text>
<line x1="1103.0" y1="1171.3" x2="1516.5" y2="1171.3" stroke="#000" stroke-width="3.1" stroke-linecap="round"/>
<line x1="1200.7" y1="1171.3" x2="1200.7" y2="1179.8" stroke="#000" stroke-width="3.1" stroke-linecap="round"/>
<line x1="1415.7" y1="1171.3" x2="1415.7" y2="1179.8" stroke="#000" stroke-width="3.1" stroke-linecap="round"/>
<rect x="1124.1" y="1069.1" width="35.6" height="102.2" fill="#5CA2A6" stroke="#000" stroke-width="3.1"/>
<rect x="1183.2" y="853.5" width="34.8" height="317.8" fill="#CDDFEA" stroke="#000" stroke-width="3.1"/>
<rect x="1242.0" y="862.2" width="34.9" height="309.1" fill="#D6C4A8" stroke="#000" stroke-width="3.1"/>
<rect x="1339.6" y="1069.1" width="34.9" height="102.2" fill="#5CA2A6" stroke="#000" stroke-width="3.1"/>
<rect x="1398.2" y="1077.2" width="35.4" height="94.1" fill="#CDDFEA" stroke="#000" stroke-width="3.1"/>
<rect x="1457.0" y="1069.1" width="34.9" height="102.2" fill="#D6C4A8" stroke="#000" stroke-width="3.1"/>
<line x1="1142.0" y1="1059.1" x2="1142.0" y2="1078.0" stroke="#000" stroke-width="3.1" stroke-linecap="round"/>
<line x1="1133.0" y1="1059.1" x2="1151.0" y2="1059.1" stroke="#000" stroke-width="3.1" stroke-linecap="round"/>
<line x1="1133.0" y1="1078.0" x2="1151.0" y2="1078.0" stroke="#000" stroke-width="3.1" stroke-linecap="round"/>
<circle cx="1126.6" cy="1075.9" r="4.8" fill="#000"/>
<circle cx="1141.8" cy="1057.7" r="4.8" fill="#000"/>
<circle cx="1156.7" cy="1072.3" r="4.8" fill="#000"/>
<line x1="1200.7" y1="847.3" x2="1200.7" y2="858.4" stroke="#000" stroke-width="3.1" stroke-linecap="round"/>
<line x1="1191.7" y1="847.3" x2="1209.7" y2="847.3" stroke="#000" stroke-width="3.1" stroke-linecap="round"/>
<line x1="1191.7" y1="858.4" x2="1209.7" y2="858.4" stroke="#000" stroke-width="3.1" stroke-linecap="round"/>
<circle cx="1185.7" cy="858.4" r="4.8" fill="#000"/>
<circle cx="1201.2" cy="846.8" r="4.8" fill="#000"/>
<circle cx="1216.1" cy="852.2" r="4.8" fill="#000"/>
<line x1="1259.5" y1="833.7" x2="1259.5" y2="888.8" stroke="#000" stroke-width="3.1" stroke-linecap="round"/>
<line x1="1250.5" y1="833.7" x2="1268.5" y2="833.7" stroke="#000" stroke-width="3.1" stroke-linecap="round"/>
<line x1="1250.5" y1="888.8" x2="1268.5" y2="888.8" stroke="#000" stroke-width="3.1" stroke-linecap="round"/>
<circle cx="1259.8" cy="831.8" r="4.8" fill="#000"/>
<circle cx="1259.8" cy="863.8" r="4.8" fill="#000"/>
<circle cx="1259.8" cy="887.4" r="4.8" fill="#000"/>
<line x1="1357.1" y1="1046.0" x2="1357.1" y2="1091.6" stroke="#000" stroke-width="3.1" stroke-linecap="round"/>
<line x1="1348.1" y1="1046.0" x2="1366.1" y2="1046.0" stroke="#000" stroke-width="3.1" stroke-linecap="round"/>
<line x1="1348.1" y1="1091.6" x2="1366.1" y2="1091.6" stroke="#000" stroke-width="3.1" stroke-linecap="round"/>
<circle cx="1357.4" cy="1050.9" r="4.8" fill="#000"/>
<circle cx="1357.4" cy="1061.8" r="4.8" fill="#000"/>
<circle cx="1357.4" cy="1094.0" r="4.8" fill="#000"/>
<line x1="1416.0" y1="1063.7" x2="1416.0" y2="1090.0" stroke="#000" stroke-width="3.1" stroke-linecap="round"/>
<line x1="1407.0" y1="1063.7" x2="1425.0" y2="1063.7" stroke="#000" stroke-width="3.1" stroke-linecap="round"/>
<line x1="1407.0" y1="1090.0" x2="1425.0" y2="1090.0" stroke="#000" stroke-width="3.1" stroke-linecap="round"/>
<circle cx="1416.2" cy="1073.2" r="4.8" fill="#000"/>
<circle cx="1416.2" cy="1091.6" r="4.8" fill="#000"/>
<circle cx="1431.1" cy="1065.0" r="4.8" fill="#000"/>
<line x1="1474.5" y1="1031.7" x2="1474.5" y2="1104.9" stroke="#000" stroke-width="3.1" stroke-linecap="round"/>
<line x1="1465.5" y1="1031.7" x2="1483.5" y2="1031.7" stroke="#000" stroke-width="3.1" stroke-linecap="round"/>
<line x1="1465.5" y1="1104.9" x2="1483.5" y2="1104.9" stroke="#000" stroke-width="3.1" stroke-linecap="round"/>
<circle cx="1459.6" cy="1091.6" r="4.8" fill="#000"/>
<circle cx="1474.5" cy="1026.3" r="4.8" fill="#000"/>
<circle cx="1489.4" cy="1087.3" r="4.8" fill="#000"/>
<text x="1142.0" y="1029.8" font-size="32" text-anchor="middle">b</text>
<text x="1200.7" y="819.1" font-size="32" text-anchor="middle">a</text>
<text x="1259.5" y="806.1" font-size="32" text-anchor="middle">a</text>
<rect x="1324.5" y="784.9" width="38.8" height="18.7" fill="#5CA2A6" stroke="#000" stroke-width="3.1"/>
<text x="1388.6" y="805.2" font-size="31">0 min</text>
<rect x="1324.5" y="837.8" width="38.8" height="18.7" fill="#CDDFEA" stroke="#000" stroke-width="3.1"/>
<text x="1388.6" y="858.1" font-size="31">30 min</text>
<rect x="1324.5" y="890.6" width="38.8" height="18.7" fill="#D6C4A8" stroke="#000" stroke-width="3.1"/>
<text x="1388.6" y="910.9" font-size="31">60 min</text>
<text x="1057.7" y="964.0" font-size="31" text-anchor="middle" transform="rotate(-90 1057.7 964.0)">Relative expression level</text>
<text x="1200.7" y="1210.0" font-size="31" text-anchor="middle">SLRL2</text>
<text x="1415.7" y="1210.0" font-size="31" text-anchor="middle">NF-YC9</text>
<text x="1499.0" y="715.0" font-size="44" font-weight="bold">h</text>
<line x1="1606.9" y1="776.5" x2="1606.9" y2="1164.1" stroke="#000" stroke-width="3.1" stroke-linecap="round"/>
<line x1="1606.9" y1="776.5" x2="1614.9" y2="776.5" stroke="#000" stroke-width="3.1" stroke-linecap="round"/>
<text x="1600.5" y="786.7" font-size="32" text-anchor="end">2.0</text>
<line x1="1606.9" y1="873.4" x2="1614.9" y2="873.4" stroke="#000" stroke-width="3.1" stroke-linecap="round"/>
<text x="1600.5" y="883.6" font-size="32" text-anchor="end">1.5</text>
<line x1="1606.9" y1="970.3" x2="1614.9" y2="970.3" stroke="#000" stroke-width="3.1" stroke-linecap="round"/>
<text x="1600.5" y="980.5" font-size="32" text-anchor="end">1.0</text>
<line x1="1606.9" y1="1067.2" x2="1614.9" y2="1067.2" stroke="#000" stroke-width="3.1" stroke-linecap="round"/>
<text x="1600.5" y="1077.4" font-size="32" text-anchor="end">0.5</text>
<line x1="1606.9" y1="1164.1" x2="1614.9" y2="1164.1" stroke="#000" stroke-width="3.1" stroke-linecap="round"/>
<text x="1600.5" y="1174.3" font-size="32" text-anchor="end">0</text>
<line x1="1606.9" y1="1164.1" x2="1995.3" y2="1164.1" stroke="#000" stroke-width="3.1" stroke-linecap="round"/>
<line x1="1666.5" y1="1164.1" x2="1666.5" y2="1172.6" stroke="#000" stroke-width="3.1" stroke-linecap="round"/>
<line x1="1755.5" y1="1164.1" x2="1755.5" y2="1172.6" stroke="#000" stroke-width="3.1" stroke-linecap="round"/>
<line x1="1844.8" y1="1164.1" x2="1844.8" y2="1172.6" stroke="#000" stroke-width="3.1" stroke-linecap="round"/>
<line x1="1934.3" y1="1164.1" x2="1934.3" y2="1172.6" stroke="#000" stroke-width="3.1" stroke-linecap="round"/>
<rect x="1639.0" y="970.7" width="55.0" height="193.4" fill="#5CA2A6" stroke="#000" stroke-width="3.1"/>
<rect x="1727.8" y="824.7" width="55.3" height="339.4" fill="#CDDFEA" stroke="#000" stroke-width="3.1"/>
<rect x="1817.0" y="820.8" width="55.6" height="343.3" fill="#D6C4A8" stroke="#000" stroke-width="3.1"/>
<rect x="1907.0" y="824.7" width="54.7" height="339.4" fill="#B98A62" stroke="#000" stroke-width="3.1"/>
<line x1="1666.5" y1="960.2" x2="1666.5" y2="980.6" stroke="#000" stroke-width="3.1" stroke-linecap="round"/>
<line x1="1657.5" y1="960.2" x2="1675.5" y2="960.2" stroke="#000" stroke-width="3.1" stroke-linecap="round"/>
<line x1="1657.5" y1="980.6" x2="1675.5" y2="980.6" stroke="#000" stroke-width="3.1" stroke-linecap="round"/>
<circle cx="1650.7" cy="962.1" r="4.8" fill="#000"/>
<circle cx="1666.8" cy="959.5" r="4.8" fill="#000"/>
<circle cx="1682.5" cy="966.2" r="4.8" fill="#000"/>
<circle cx="1650.7" cy="982.4" r="4.8" fill="#000"/>
<circle cx="1682.5" cy="980.6" r="4.8" fill="#000"/>
<line x1="1755.5" y1="811.6" x2="1755.5" y2="835.6" stroke="#000" stroke-width="3.1" stroke-linecap="round"/>
<line x1="1746.5" y1="811.6" x2="1764.5" y2="811.6" stroke="#000" stroke-width="3.1" stroke-linecap="round"/>
<line x1="1746.5" y1="835.6" x2="1764.5" y2="835.6" stroke="#000" stroke-width="3.1" stroke-linecap="round"/>
<circle cx="1739.8" cy="818.2" r="4.8" fill="#000"/>
<circle cx="1756.0" cy="807.0" r="4.8" fill="#000"/>
<circle cx="1771.9" cy="822.1" r="4.8" fill="#000"/>
<circle cx="1771.9" cy="831.7" r="4.8" fill="#000"/>
<circle cx="1739.8" cy="838.5" r="4.8" fill="#000"/>
<line x1="1844.8" y1="805.9" x2="1844.8" y2="834.6" stroke="#000" stroke-width="3.1" stroke-linecap="round"/>
<line x1="1835.8" y1="805.9" x2="1853.8" y2="805.9" stroke="#000" stroke-width="3.1" stroke-linecap="round"/>
<line x1="1835.8" y1="834.6" x2="1853.8" y2="834.6" stroke="#000" stroke-width="3.1" stroke-linecap="round"/>
<circle cx="1829.0" cy="814.3" r="4.8" fill="#000"/>
<circle cx="1844.9" cy="799.1" r="4.8" fill="#000"/>
<circle cx="1861.1" cy="823.9" r="4.8" fill="#000"/>
<circle cx="1844.9" cy="826.8" r="4.8" fill="#000"/>
<circle cx="1844.9" cy="837.7" r="4.8" fill="#000"/>
<line x1="1934.3" y1="807.2" x2="1934.3" y2="839.0" stroke="#000" stroke-width="3.1" stroke-linecap="round"/>
<line x1="1925.3" y1="807.2" x2="1943.3" y2="807.2" stroke="#000" stroke-width="3.1" stroke-linecap="round"/>
<line x1="1925.3" y1="839.0" x2="1943.3" y2="839.0" stroke="#000" stroke-width="3.1" stroke-linecap="round"/>
<circle cx="1934.0" cy="800.7" r="4.8" fill="#000"/>
<circle cx="1934.0" cy="814.3" r="4.8" fill="#000"/>
<circle cx="1950.2" cy="828.1" r="4.8" fill="#000"/>
<circle cx="1934.0" cy="824.2" r="4.8" fill="#000"/>
<circle cx="1934.0" cy="842.9" r="4.8" fill="#000"/>
<text x="1666.5" y="935.5" font-size="32" text-anchor="middle">b</text>
<text x="1755.5" y="785.6" font-size="32" text-anchor="middle">a</text>
<text x="1844.8" y="780.4" font-size="32" text-anchor="middle">a</text>
<text x="1934.3" y="781.7" font-size="32" text-anchor="middle">a</text>
<text x="1670" y="754.3" font-size="31" font-weight="bold"><tspan font-style="italic">SLRL2</tspan>  <tspan dx="2">Pro-LUC</tspan></text>
<text x="1539.6" y="962.5" font-size="31" text-anchor="middle" transform="rotate(-90 1539.6 962.5)">Luc/Rluc</text>
<text x="1677.5" y="1194.1" font-size="31.5" text-anchor="end" transform="rotate(-45 1677.5 1194.1)">0 µM</text>
<text x="1768.6" y="1191.2" font-size="31.5" text-anchor="end" transform="rotate(-45 1768.6 1191.2)">10 µM</text>
<text x="1857.2" y="1194.0" font-size="31.5" text-anchor="end" transform="rotate(-45 1857.2 1194.0)">50 µM</text>
<text x="1947.2" y="1191.1" font-size="31.5" text-anchor="end" transform="rotate(-45 1947.2 1191.1)">100 µM</text>
<text x="12.0" y="1307.7" font-size="44" font-weight="bold">i</text>
<line x1="118.0" y1="1391.5" x2="118.0" y2="1831.0" stroke="#000" stroke-width="3.1" stroke-linecap="round"/>
<line x1="118.0" y1="1391.5" x2="126.0" y2="1391.5" stroke="#000" stroke-width="3.1" stroke-linecap="round"/>
<text x="110.0" y="1403.5" font-size="32" text-anchor="end">25</text>
<line x1="118.0" y1="1479.4" x2="126.0" y2="1479.4" stroke="#000" stroke-width="3.1" stroke-linecap="round"/>
<text x="110.0" y="1491.4" font-size="32" text-anchor="end">20</text>
<line x1="118.0" y1="1567.3" x2="126.0" y2="1567.3" stroke="#000" stroke-width="3.1" stroke-linecap="round"/>
<text x="110.0" y="1579.3" font-size="32" text-anchor="end">15</text>
<line x1="118.0" y1="1655.2" x2="126.0" y2="1655.2" stroke="#000" stroke-width="3.1" stroke-linecap="round"/>
<text x="110.0" y="1667.2" font-size="32" text-anchor="end">10</text>
<line x1="118.0" y1="1743.1" x2="126.0" y2="1743.1" stroke="#000" stroke-width="3.1" stroke-linecap="round"/>
<text x="110.0" y="1755.1" font-size="32" text-anchor="end">5</text>
<line x1="118.0" y1="1831.0" x2="126.0" y2="1831.0" stroke="#000" stroke-width="3.1" stroke-linecap="round"/>
<text x="110.0" y="1843.0" font-size="32" text-anchor="end">0</text>
<line x1="118.0" y1="1831.0" x2="558.3" y2="1831.0" stroke="#000" stroke-width="3.1" stroke-linecap="round"/>
<line x1="164.1" y1="1831.0" x2="164.1" y2="1839.5" stroke="#000" stroke-width="3.1" stroke-linecap="round"/>
<line x1="232.7" y1="1831.0" x2="232.7" y2="1839.5" stroke="#000" stroke-width="3.1" stroke-linecap="round"/>
<line x1="301.6" y1="1831.0" x2="301.6" y2="1839.5" stroke="#000" stroke-width="3.1" stroke-linecap="round"/>
<line x1="370.8" y1="1831.0" x2="370.8" y2="1839.5" stroke="#000" stroke-width="3.1" stroke-linecap="round"/>
<line x1="439.4" y1="1831.0" x2="439.4" y2="1839.5" stroke="#000" stroke-width="3.1" stroke-linecap="round"/>
<line x1="508.6" y1="1831.0" x2="508.6" y2="1839.5" stroke="#000" stroke-width="3.1" stroke-linecap="round"/>
<rect x="143.2" y="1534.9" width="41.6" height="296.1" fill="#5CA2A6" stroke="#000" stroke-width="3.1"/>
<rect x="212.4" y="1480.9" width="41.6" height="350.1" fill="#CDDFEA" stroke="#000" stroke-width="3.1"/>
<rect x="281.2" y="1493.1" width="41.3" height="337.9" fill="#CDDFEA" stroke="#000" stroke-width="3.1"/>
<rect x="349.9" y="1554.5" width="41.3" height="276.5" fill="#D6C4A8" stroke="#000" stroke-width="3.1"/>
<rect x="418.4" y="1569.0" width="41.9" height="262.0" fill="#D6C4A8" stroke="#000" stroke-width="3.1"/>
<rect x="487.7" y="1561.8" width="41.6" height="269.2" fill="#D6C4A8" stroke="#000" stroke-width="3.1"/>
<line x1="164.1" y1="1527.6" x2="164.1" y2="1543.4" stroke="#000" stroke-width="3.1" stroke-linecap="round"/>
<line x1="155.1" y1="1527.6" x2="173.1" y2="1527.6" stroke="#000" stroke-width="3.1" stroke-linecap="round"/>
<line x1="155.1" y1="1543.4" x2="173.1" y2="1543.4" stroke="#000" stroke-width="3.1" stroke-linecap="round"/>
<circle cx="146.0" cy="1539.9" r="4.8" fill="#000"/>
<circle cx="164.1" cy="1525.3" r="4.8" fill="#000"/>
<circle cx="181.6" cy="1539.3" r="4.8" fill="#000"/>
<line x1="233.0" y1="1471.2" x2="233.0" y2="1489.6" stroke="#000" stroke-width="3.1" stroke-linecap="round"/>
<line x1="224.0" y1="1471.2" x2="242.0" y2="1471.2" stroke="#000" stroke-width="3.1" stroke-linecap="round"/>
<line x1="224.0" y1="1489.6" x2="242.0" y2="1489.6" stroke="#000" stroke-width="3.1" stroke-linecap="round"/>
<circle cx="215.5" cy="1485.8" r="4.8" fill="#000"/>
<circle cx="233.0" cy="1469.2" r="4.8" fill="#000"/>
<circle cx="250.5" cy="1485.8" r="4.8" fill="#000"/>
<line x1="301.9" y1="1491.5" x2="301.9" y2="1494.5" stroke="#000" stroke-width="3.1" stroke-linecap="round"/>
<line x1="292.9" y1="1491.5" x2="310.9" y2="1491.5" stroke="#000" stroke-width="3.1" stroke-linecap="round"/>
<line x1="292.9" y1="1494.5" x2="310.9" y2="1494.5" stroke="#000" stroke-width="3.1" stroke-linecap="round"/>
<circle cx="283.2" cy="1495.5" r="4.8" fill="#000"/>
<circle cx="302.8" cy="1492.6" r="4.8" fill="#000"/>
<circle cx="321.2" cy="1492.6" r="4.8" fill="#000"/>
<line x1="370.5" y1="1551.0" x2="370.5" y2="1556.8" stroke="#000" stroke-width="3.1" stroke-linecap="round"/>
<line x1="361.5" y1="1551.0" x2="379.5" y2="1551.0" stroke="#000" stroke-width="3.1" stroke-linecap="round"/>
<line x1="361.5" y1="1556.8" x2="379.5" y2="1556.8" stroke="#000" stroke-width="3.1" stroke-linecap="round"/>
<circle cx="352.7" cy="1556.8" r="4.8" fill="#000"/>
<circle cx="370.8" cy="1551.0" r="4.8" fill="#000"/>
<circle cx="389.2" cy="1555.0" r="4.8" fill="#000"/>
<line x1="439.4" y1="1567.5" x2="439.4" y2="1570.0" stroke="#000" stroke-width="3.1" stroke-linecap="round"/>
<line x1="430.4" y1="1567.5" x2="448.4" y2="1567.5" stroke="#000" stroke-width="3.1" stroke-linecap="round"/>
<line x1="430.4" y1="1570.0" x2="448.4" y2="1570.0" stroke="#000" stroke-width="3.1" stroke-linecap="round"/>
<circle cx="421.3" cy="1570.5" r="4.8" fill="#000"/>
<circle cx="439.4" cy="1567.6" r="4.8" fill="#000"/>
<circle cx="457.5" cy="1569.0" r="4.8" fill="#000"/>
<line x1="508.5" y1="1555.9" x2="508.5" y2="1564.7" stroke="#000" stroke-width="3.1" stroke-linecap="round"/>
<line x1="499.5" y1="1555.9" x2="517.5" y2="1555.9" stroke="#000" stroke-width="3.1" stroke-linecap="round"/>
<line x1="499.5" y1="1564.7" x2="517.5" y2="1564.7" stroke="#000" stroke-width="3.1" stroke-linecap="round"/>
<circle cx="490.5" cy="1563.8" r="4.8" fill="#000"/>
<circle cx="508.6" cy="1555.9" r="4.8" fill="#000"/>
<circle cx="527.0" cy="1562.6" r="4.8" fill="#000"/>
<text x="245.0" y="1443.5" font-size="31" transform="rotate(-90 245.0 1443.5)"><tspan font-style="italic">P</tspan>=0.0016</text>
<text x="313.8" y="1455.2" font-size="31" transform="rotate(-90 313.8 1455.2)"><tspan font-style="italic">P</tspan>=0.0010</text>
<text x="382.5" y="1526.7" font-size="31" transform="rotate(-90 382.5 1526.7)"><tspan font-style="italic">P</tspan>=0.0175</text>
<text x="451.1" y="1547.2" font-size="31" transform="rotate(-90 451.1 1547.2)"><tspan font-style="italic">P</tspan>&lt;0.0020</text>
<text x="516.7" y="1539.9" font-size="31" transform="rotate(-90 516.7 1539.9)"><tspan font-style="italic">P</tspan>=0.0077</text>
<text x="54.6" y="1627.0" font-size="31" text-anchor="middle" transform="rotate(-90 54.6 1627.0)">Relative expression level</text>
<text x="181.9" y="1869.7" font-size="31.5" text-anchor="end" transform="rotate(-45 181.9 1869.7)">WT</text>
<text x="246.3" y="1867.4" font-size="31.5" text-anchor="end" transform="rotate(-45 246.3 1867.4)">slrl2-1</text>
<text x="315.8" y="1868.4" font-size="31.5" text-anchor="end" transform="rotate(-45 315.8 1868.4)">slrl2-2</text>
<text x="387.1" y="1862.9" font-size="31.5" text-anchor="end" transform="rotate(-45 387.1 1862.9)">SLRL2-OX1</text>
<text x="456.8" y="1863.0" font-size="31.5" text-anchor="end" transform="rotate(-45 456.8 1863.0)">SLRL2-OX2</text>
<text x="525.4" y="1863.0" font-size="31.5" text-anchor="end" transform="rotate(-45 525.4 1863.0)">SLRL2-OX3</text>
<text x="651.0" y="1312.0" font-size="44" font-weight="bold">j</text>
<line x1="673.5" y1="1432.2" x2="673.5" y2="1830.4" stroke="#000" stroke-width="3.1" stroke-linecap="round"/>
<line x1="673.5" y1="1432.2" x2="681.5" y2="1432.2" stroke="#000" stroke-width="3.1" stroke-linecap="round"/>
<text x="666.0" y="1442.7" font-size="32" text-anchor="end">25</text>
<line x1="673.5" y1="1511.8" x2="681.5" y2="1511.8" stroke="#000" stroke-width="3.1" stroke-linecap="round"/>
<text x="666.0" y="1522.3" font-size="32" text-anchor="end">20</text>
<line x1="673.5" y1="1591.5" x2="681.5" y2="1591.5" stroke="#000" stroke-width="3.1" stroke-linecap="round"/>
<text x="666.0" y="1602.0" font-size="32" text-anchor="end">15</text>
<line x1="673.5" y1="1671.1" x2="681.5" y2="1671.1" stroke="#000" stroke-width="3.1" stroke-linecap="round"/>
<text x="666.0" y="1681.6" font-size="32" text-anchor="end">10</text>
<line x1="673.5" y1="1750.8" x2="681.5" y2="1750.8" stroke="#000" stroke-width="3.1" stroke-linecap="round"/>
<text x="666.0" y="1761.3" font-size="32" text-anchor="end">5</text>
<line x1="673.5" y1="1830.4" x2="681.5" y2="1830.4" stroke="#000" stroke-width="3.1" stroke-linecap="round"/>
<text x="666.0" y="1840.9" font-size="32" text-anchor="end">0</text>
<line x1="673.5" y1="1830.4" x2="1271.2" y2="1830.4" stroke="#000" stroke-width="3.1" stroke-linecap="round"/>
<line x1="726.9" y1="1830.4" x2="726.9" y2="1838.9" stroke="#000" stroke-width="3.1" stroke-linecap="round"/>
<line x1="848.7" y1="1830.4" x2="848.7" y2="1838.9" stroke="#000" stroke-width="3.1" stroke-linecap="round"/>
<line x1="970.6" y1="1830.4" x2="970.6" y2="1838.9" stroke="#000" stroke-width="3.1" stroke-linecap="round"/>
<line x1="1092.2" y1="1830.4" x2="1092.2" y2="1838.9" stroke="#000" stroke-width="3.1" stroke-linecap="round"/>
<line x1="1214.1" y1="1830.4" x2="1214.1" y2="1838.9" stroke="#000" stroke-width="3.1" stroke-linecap="round"/>
<rect x="690.4" y="1568.0" width="27.0" height="262.4" fill="#5CA2A6" stroke="#000" stroke-width="3.1"/>
<rect x="735.8" y="1581.9" width="26.9" height="248.5" fill="#CDDFEA" stroke="#000" stroke-width="3.1"/>
<rect x="812.6" y="1520.1" width="26.6" height="310.3" fill="#5CA2A6" stroke="#000" stroke-width="3.1"/>
<rect x="857.8" y="1536.3" width="26.7" height="294.1" fill="#CDDFEA" stroke="#000" stroke-width="3.1"/>
<rect x="934.4" y="1528.5" width="27.0" height="301.9" fill="#5CA2A6" stroke="#000" stroke-width="3.1"/>
<rect x="979.8" y="1539.5" width="26.9" height="290.9" fill="#CDDFEA" stroke="#000" stroke-width="3.1"/>
<rect x="1056.5" y="1585.1" width="26.1" height="245.3" fill="#5CA2A6" stroke="#000" stroke-width="3.1"/>
<rect x="1102.5" y="1592.2" width="26.3" height="238.2" fill="#CDDFEA" stroke="#000" stroke-width="3.1"/>
<rect x="1178.8" y="1583.4" width="25.2" height="247.0" fill="#5CA2A6" stroke="#000" stroke-width="3.1"/>
<rect x="1225.0" y="1584.3" width="25.2" height="246.1" fill="#CDDFEA" stroke="#000" stroke-width="3.1"/>
<circle cx="691.5" cy="1568.0" r="4.8" fill="#000"/>
<circle cx="704.4" cy="1563.1" r="4.8" fill="#000"/>
<circle cx="717.4" cy="1567.3" r="4.8" fill="#000"/>
<line x1="704.0" y1="1565.0" x2="704.0" y2="1570.0" stroke="#000" stroke-width="3.1" stroke-linecap="round"/>
<line x1="697.0" y1="1565.0" x2="711.0" y2="1565.0" stroke="#000" stroke-width="3.1" stroke-linecap="round"/>
<line x1="697.0" y1="1570.0" x2="711.0" y2="1570.0" stroke="#000" stroke-width="3.1" stroke-linecap="round"/>
<circle cx="738.4" cy="1583.5" r="4.8" fill="#000"/>
<circle cx="749.7" cy="1578.6" r="4.8" fill="#000"/>
<circle cx="761.0" cy="1580.2" r="4.8" fill="#000"/>
<line x1="749.2" y1="1579.0" x2="749.2" y2="1584.0" stroke="#000" stroke-width="3.1" stroke-linecap="round"/>
<line x1="742.2" y1="1579.0" x2="756.2" y2="1579.0" stroke="#000" stroke-width="3.1" stroke-linecap="round"/>
<line x1="742.2" y1="1584.0" x2="756.2" y2="1584.0" stroke="#000" stroke-width="3.1" stroke-linecap="round"/>
<circle cx="815.9" cy="1522.1" r="4.8" fill="#000"/>
<circle cx="826.3" cy="1515.6" r="4.8" fill="#000"/>
<circle cx="837.6" cy="1520.1" r="4.8" fill="#000"/>
<line x1="826.0" y1="1517.0" x2="826.0" y2="1523.0" stroke="#000" stroke-width="3.1" stroke-linecap="round"/>
<line x1="819.0" y1="1517.0" x2="833.0" y2="1517.0" stroke="#000" stroke-width="3.1" stroke-linecap="round"/>
<line x1="819.0" y1="1523.0" x2="833.0" y2="1523.0" stroke="#000" stroke-width="3.1" stroke-linecap="round"/>
<circle cx="861.2" cy="1539.5" r="4.8" fill="#000"/>
<circle cx="872.5" cy="1535.6" r="4.8" fill="#000"/>
<circle cx="882.8" cy="1534.0" r="4.8" fill="#000"/>
<line x1="871.2" y1="1534.0" x2="871.2" y2="1539.0" stroke="#000" stroke-width="3.1" stroke-linecap="round"/>
<line x1="864.2" y1="1534.0" x2="878.2" y2="1534.0" stroke="#000" stroke-width="3.1" stroke-linecap="round"/>
<line x1="864.2" y1="1539.0" x2="878.2" y2="1539.0" stroke="#000" stroke-width="3.1" stroke-linecap="round"/>
<line x1="948.0" y1="1521.1" x2="948.0" y2="1533.0" stroke="#000" stroke-width="3.1" stroke-linecap="round"/>
<line x1="941.0" y1="1521.1" x2="955.0" y2="1521.1" stroke="#000" stroke-width="3.1" stroke-linecap="round"/>
<line x1="941.0" y1="1533.0" x2="955.0" y2="1533.0" stroke="#000" stroke-width="3.1" stroke-linecap="round"/>
<circle cx="936.5" cy="1530.8" r="4.8" fill="#000"/>
<circle cx="947.8" cy="1520.1" r="4.8" fill="#000"/>
<circle cx="958.1" cy="1530.8" r="4.8" fill="#000"/>
<circle cx="982.4" cy="1543.1" r="4.8" fill="#000"/>
<circle cx="993.0" cy="1538.2" r="4.8" fill="#000"/>
<circle cx="1003.4" cy="1537.9" r="4.8" fill="#000"/>
<line x1="993.2" y1="1537.0" x2="993.2" y2="1542.0" stroke="#000" stroke-width="3.1" stroke-linecap="round"/>
<line x1="986.2" y1="1537.0" x2="1000.2" y2="1537.0" stroke="#000" stroke-width="3.1" stroke-linecap="round"/>
<line x1="986.2" y1="1542.0" x2="1000.2" y2="1542.0" stroke="#000" stroke-width="3.1" stroke-linecap="round"/>
<line x1="1069.6" y1="1575.8" x2="1069.6" y2="1591.4" stroke="#000" stroke-width="3.1" stroke-linecap="round"/>
<line x1="1062.6" y1="1575.8" x2="1076.6" y2="1575.8" stroke="#000" stroke-width="3.1" stroke-linecap="round"/>
<line x1="1062.6" y1="1591.4" x2="1076.6" y2="1591.4" stroke="#000" stroke-width="3.1" stroke-linecap="round"/>
<circle cx="1069.5" cy="1580.7" r="4.8" fill="#000"/>
<circle cx="1069.5" cy="1593.5" r="4.8" fill="#000"/>
<circle cx="1080.7" cy="1576.6" r="4.8" fill="#000"/>
<line x1="1115.7" y1="1588.7" x2="1115.7" y2="1595.8" stroke="#000" stroke-width="3.1" stroke-linecap="round"/>
<line x1="1108.7" y1="1588.7" x2="1122.7" y2="1588.7" stroke="#000" stroke-width="3.1" stroke-linecap="round"/>
<line x1="1108.7" y1="1595.8" x2="1122.7" y2="1595.8" stroke="#000" stroke-width="3.1" stroke-linecap="round"/>
<circle cx="1104.6" cy="1596.7" r="4.8" fill="#000"/>
<circle cx="1115.6" cy="1586.4" r="4.8" fill="#000"/>
<circle cx="1126.7" cy="1590.5" r="4.8" fill="#000"/>
<line x1="1191.4" y1="1580.7" x2="1191.4" y2="1585.2" stroke="#000" stroke-width="3.1" stroke-linecap="round"/>
<line x1="1184.4" y1="1580.7" x2="1198.4" y2="1580.7" stroke="#000" stroke-width="3.1" stroke-linecap="round"/>
<line x1="1184.4" y1="1585.2" x2="1198.4" y2="1585.2" stroke="#000" stroke-width="3.1" stroke-linecap="round"/>
<circle cx="1180.8" cy="1587.8" r="4.8" fill="#000"/>
<circle cx="1191.1" cy="1576.3" r="4.8" fill="#000"/>
<circle cx="1202.1" cy="1582.1" r="4.8" fill="#000"/>
<line x1="1237.5" y1="1584.0" x2="1237.5" y2="1586.0" stroke="#000" stroke-width="3.1" stroke-linecap="round"/>
<line x1="1230.5" y1="1584.0" x2="1244.5" y2="1584.0" stroke="#000" stroke-width="3.1" stroke-linecap="round"/>
<line x1="1230.5" y1="1586.0" x2="1244.5" y2="1586.0" stroke="#000" stroke-width="3.1" stroke-linecap="round"/>
<circle cx="1226.0" cy="1585.2" r="4.8" fill="#000"/>
<circle cx="1236.7" cy="1584.6" r="4.8" fill="#000"/>
<circle cx="1248.2" cy="1585.2" r="4.8" fill="#000"/>
<polyline points="703.8,1505.0 703.8,1480.7 750.3,1480.7 750.3,1529.2" fill="none" stroke="#000" stroke-width="3.1"/>
<polyline points="825.0,1458.0 825.0,1432.2 871.9,1432.2 871.9,1477.5" fill="none" stroke="#000" stroke-width="3.1"/>
<polyline points="945.9,1468.4 945.9,1444.2 992.1,1444.2 992.1,1487.8" fill="none" stroke="#000" stroke-width="3.1"/>
<polyline points="1071.8,1530.2 1071.8,1505.0 1117.4,1505.0 1117.4,1530.2" fill="none" stroke="#000" stroke-width="3.1"/>
<polyline points="1191.1,1530.2 1191.1,1505.2 1237.5,1505.2 1237.5,1530.2" fill="none" stroke="#000" stroke-width="3.1"/>
<text x="724.3" y="1460.3" font-size="31.5" text-anchor="middle">8.82%</text>
<text x="845.9" y="1413.5" font-size="31.5" text-anchor="middle">5.46%</text>
<text x="967.0" y="1423.5" font-size="31.5" text-anchor="middle">3.81%</text>
<text x="1092.0" y="1485.0" font-size="31.5" text-anchor="middle">3.00%</text>
<text x="1212.7" y="1485.9" font-size="31.5" text-anchor="middle">1.25%</text>
<text x="704.4" y="1540.5" font-size="32" text-anchor="middle">c</text>
<text x="748.7" y="1554.4" font-size="32" text-anchor="middle">d</text>
<text x="824.7" y="1494.3" font-size="32" text-anchor="middle">a</text>
<text x="872.5" y="1513.0" font-size="32" text-anchor="middle">b</text>
<text x="945.9" y="1501.7" font-size="32" text-anchor="middle">ab</text>
<text x="993.0" y="1514.0" font-size="32" text-anchor="middle">b</text>
<text x="1068.3" y="1559.5" font-size="32" text-anchor="middle">d</text>
<text x="1115.2" y="1565.7" font-size="32" text-anchor="middle">d</text>
<text x="1190.3" y="1558.6" font-size="32" text-anchor="middle">d</text>
<text x="1237.4" y="1559.5" font-size="32" text-anchor="middle">d</text>
<rect x="1118.5" y="1378.2" width="37.0" height="17.6" fill="#5CA2A6" stroke="#000" stroke-width="3.1"/>
<text x="1177.0" y="1396.4" font-size="31">Mock</text>
<rect x="1118.5" y="1413.2" width="37.0" height="17.7" fill="#CDDFEA" stroke="#000" stroke-width="3.1"/>
<text x="1181.5" y="1431.8" font-size="31">ABA</text>
<text x="611.6" y="1627.2" font-size="31" text-anchor="middle" transform="rotate(-90 611.6 1627.2)">Apparent amylose content (%)</text>
<text x="747.2" y="1867.3" font-size="31.5" text-anchor="end" transform="rotate(-45 747.2 1867.3)">WT</text>
<text x="864.1" y="1868.6" font-size="31.5" text-anchor="end" transform="rotate(-45 864.1 1868.6)">slrl2-1</text>
<text x="986.8" y="1869.6" font-size="31.5" text-anchor="end" transform="rotate(-45 986.8 1869.6)">slrl2-2</text>
<text x="1106.7" y="1864.6" font-size="31.5" text-anchor="end" transform="rotate(-45 1106.7 1864.6)">SLRL2-OX1</text>
<text x="1230.5" y="1867.1" font-size="31.5" text-anchor="end" transform="rotate(-45 1230.5 1867.1)">SLRL2-OX2</text>
<text x="1339.0" y="1312.0" font-size="44" font-weight="bold">k</text>
<line x1="1402.0" y1="1436.1" x2="1402.0" y2="1830.4" stroke="#000" stroke-width="3.1" stroke-linecap="round"/>
<line x1="1402.0" y1="1436.1" x2="1410.0" y2="1436.1" stroke="#000" stroke-width="3.1" stroke-linecap="round"/>
<text x="1390.3" y="1446.7" font-size="32" text-anchor="end">2.5</text>
<line x1="1402.0" y1="1514.9" x2="1410.0" y2="1514.9" stroke="#000" stroke-width="3.1" stroke-linecap="round"/>
<text x="1390.3" y="1525.5" font-size="32" text-anchor="end">2.0</text>
<line x1="1402.0" y1="1593.8" x2="1410.0" y2="1593.8" stroke="#000" stroke-width="3.1" stroke-linecap="round"/>
<text x="1390.3" y="1604.4" font-size="32" text-anchor="end">1.5</text>
<line x1="1402.0" y1="1672.7" x2="1410.0" y2="1672.7" stroke="#000" stroke-width="3.1" stroke-linecap="round"/>
<text x="1390.3" y="1683.3" font-size="32" text-anchor="end">1.0</text>
<line x1="1402.0" y1="1751.5" x2="1410.0" y2="1751.5" stroke="#000" stroke-width="3.1" stroke-linecap="round"/>
<text x="1390.3" y="1762.1" font-size="32" text-anchor="end">0.5</text>
<line x1="1402.0" y1="1830.4" x2="1410.0" y2="1830.4" stroke="#000" stroke-width="3.1" stroke-linecap="round"/>
<text x="1390.3" y="1841.0" font-size="32" text-anchor="end">0</text>
<line x1="1402.0" y1="1830.4" x2="1997.5" y2="1830.4" stroke="#000" stroke-width="3.1" stroke-linecap="round"/>
<line x1="1455.2" y1="1830.4" x2="1455.2" y2="1838.9" stroke="#000" stroke-width="3.1" stroke-linecap="round"/>
<line x1="1576.3" y1="1830.4" x2="1576.3" y2="1838.9" stroke="#000" stroke-width="3.1" stroke-linecap="round"/>
<line x1="1696.7" y1="1830.4" x2="1696.7" y2="1838.9" stroke="#000" stroke-width="3.1" stroke-linecap="round"/>
<line x1="1817.8" y1="1830.4" x2="1817.8" y2="1838.9" stroke="#000" stroke-width="3.1" stroke-linecap="round"/>
<line x1="1938.6" y1="1830.4" x2="1938.6" y2="1838.9" stroke="#000" stroke-width="3.1" stroke-linecap="round"/>
<rect x="1418.8" y="1673.9" width="26.3" height="156.5" fill="#5CA2A6" stroke="#000" stroke-width="3.1"/>
<rect x="1464.1" y="1739.1" width="26.7" height="91.3" fill="#CDDFEA" stroke="#000" stroke-width="3.1"/>
<rect x="1540.5" y="1550.2" width="26.0" height="280.2" fill="#5CA2A6" stroke="#000" stroke-width="3.1"/>
<rect x="1585.3" y="1585.2" width="26.7" height="245.2" fill="#CDDFEA" stroke="#000" stroke-width="3.1"/>
<rect x="1661.8" y="1563.9" width="25.9" height="266.5" fill="#5CA2A6" stroke="#000" stroke-width="3.1"/>
<rect x="1707.1" y="1590.0" width="26.0" height="240.4" fill="#CDDFEA" stroke="#000" stroke-width="3.1"/>
<rect x="1782.8" y="1734.6" width="25.6" height="95.8" fill="#5CA2A6" stroke="#000" stroke-width="3.1"/>
<rect x="1827.5" y="1736.5" width="26.7" height="93.9" fill="#CDDFEA" stroke="#000" stroke-width="3.1"/>
<rect x="1903.2" y="1729.8" width="26.3" height="100.6" fill="#5CA2A6" stroke="#000" stroke-width="3.1"/>
<rect x="1948.8" y="1730.9" width="26.7" height="99.5" fill="#CDDFEA" stroke="#000" stroke-width="3.1"/>
<line x1="1432.0" y1="1671.0" x2="1432.0" y2="1676.0" stroke="#000" stroke-width="3.1" stroke-linecap="round"/>
<line x1="1425.0" y1="1671.0" x2="1439.0" y2="1671.0" stroke="#000" stroke-width="3.1" stroke-linecap="round"/>
<line x1="1425.0" y1="1676.0" x2="1439.0" y2="1676.0" stroke="#000" stroke-width="3.1" stroke-linecap="round"/>
<circle cx="1422.8" cy="1677.6" r="4.8" fill="#000"/>
<circle cx="1432.1" cy="1670.9" r="4.8" fill="#000"/>
<circle cx="1443.2" cy="1673.2" r="4.8" fill="#000"/>
<line x1="1477.5" y1="1736.5" x2="1477.5" y2="1739.5" stroke="#000" stroke-width="3.1" stroke-linecap="round"/>
<line x1="1470.5" y1="1736.5" x2="1484.5" y2="1736.5" stroke="#000" stroke-width="3.1" stroke-linecap="round"/>
<line x1="1470.5" y1="1739.5" x2="1484.5" y2="1739.5" stroke="#000" stroke-width="3.1" stroke-linecap="round"/>
<circle cx="1467.5" cy="1739.1" r="4.8" fill="#000"/>
<circle cx="1477.5" cy="1737.3" r="4.8" fill="#000"/>
<circle cx="1488.7" cy="1738.0" r="4.8" fill="#000"/>
<line x1="1553.5" y1="1529.3" x2="1553.5" y2="1571.4" stroke="#000" stroke-width="3.1" stroke-linecap="round"/>
<line x1="1546.5" y1="1529.3" x2="1560.5" y2="1529.3" stroke="#000" stroke-width="3.1" stroke-linecap="round"/>
<line x1="1546.5" y1="1571.4" x2="1560.5" y2="1571.4" stroke="#000" stroke-width="3.1" stroke-linecap="round"/>
<circle cx="1542.8" cy="1534.1" r="4.8" fill="#000"/>
<circle cx="1554.0" cy="1542.7" r="4.8" fill="#000"/>
<circle cx="1554.0" cy="1570.3" r="4.8" fill="#000"/>
<line x1="1598.7" y1="1552.8" x2="1598.7" y2="1618.0" stroke="#000" stroke-width="3.1" stroke-linecap="round"/>
<line x1="1591.7" y1="1552.8" x2="1605.7" y2="1552.8" stroke="#000" stroke-width="3.1" stroke-linecap="round"/>
<line x1="1591.7" y1="1618.0" x2="1605.7" y2="1618.0" stroke="#000" stroke-width="3.1" stroke-linecap="round"/>
<circle cx="1598.7" cy="1546.4" r="4.8" fill="#000"/>
<circle cx="1598.7" cy="1596.4" r="4.8" fill="#000"/>
<circle cx="1598.7" cy="1610.5" r="4.8" fill="#000"/>
<line x1="1674.7" y1="1545.3" x2="1674.7" y2="1580.7" stroke="#000" stroke-width="3.1" stroke-linecap="round"/>
<line x1="1667.7" y1="1545.3" x2="1681.7" y2="1545.3" stroke="#000" stroke-width="3.1" stroke-linecap="round"/>
<line x1="1667.7" y1="1580.7" x2="1681.7" y2="1580.7" stroke="#000" stroke-width="3.1" stroke-linecap="round"/>
<circle cx="1674.3" cy="1545.3" r="4.8" fill="#000"/>
<circle cx="1674.3" cy="1561.3" r="4.8" fill="#000"/>
<circle cx="1674.3" cy="1580.7" r="4.8" fill="#000"/>
<line x1="1720.1" y1="1565.8" x2="1720.1" y2="1616.1" stroke="#000" stroke-width="3.1" stroke-linecap="round"/>
<line x1="1713.1" y1="1565.8" x2="1727.1" y2="1565.8" stroke="#000" stroke-width="3.1" stroke-linecap="round"/>
<line x1="1713.1" y1="1616.1" x2="1727.1" y2="1616.1" stroke="#000" stroke-width="3.1" stroke-linecap="round"/>
<circle cx="1719.8" cy="1568.8" r="4.8" fill="#000"/>
<circle cx="1719.8" cy="1580.7" r="4.8" fill="#000"/>
<circle cx="1719.8" cy="1615.4" r="4.8" fill="#000"/>
<line x1="1795.6" y1="1725.3" x2="1795.6" y2="1744.0" stroke="#000" stroke-width="3.1" stroke-linecap="round"/>
<line x1="1788.6" y1="1725.3" x2="1802.6" y2="1725.3" stroke="#000" stroke-width="3.1" stroke-linecap="round"/>
<line x1="1788.6" y1="1744.0" x2="1802.6" y2="1744.0" stroke="#000" stroke-width="3.1" stroke-linecap="round"/>
<circle cx="1795.5" cy="1731.7" r="4.8" fill="#000"/>
<circle cx="1795.5" cy="1744.0" r="4.8" fill="#000"/>
<circle cx="1806.7" cy="1728.0" r="4.8" fill="#000"/>
<line x1="1840.9" y1="1721.6" x2="1840.9" y2="1750.3" stroke="#000" stroke-width="3.1" stroke-linecap="round"/>
<line x1="1833.9" y1="1721.6" x2="1847.9" y2="1721.6" stroke="#000" stroke-width="3.1" stroke-linecap="round"/>
<line x1="1833.9" y1="1750.3" x2="1847.9" y2="1750.3" stroke="#000" stroke-width="3.1" stroke-linecap="round"/>
<circle cx="1840.9" cy="1721.6" r="4.8" fill="#000"/>
<circle cx="1840.9" cy="1735.4" r="4.8" fill="#000"/>
<circle cx="1840.9" cy="1750.3" r="4.8" fill="#000"/>
<line x1="1916.4" y1="1713.0" x2="1916.4" y2="1744.0" stroke="#000" stroke-width="3.1" stroke-linecap="round"/>
<line x1="1909.4" y1="1713.0" x2="1923.4" y2="1713.0" stroke="#000" stroke-width="3.1" stroke-linecap="round"/>
<line x1="1909.4" y1="1744.0" x2="1923.4" y2="1744.0" stroke="#000" stroke-width="3.1" stroke-linecap="round"/>
<circle cx="1916.6" cy="1711.9" r="4.8" fill="#000"/>
<circle cx="1916.6" cy="1732.8" r="4.8" fill="#000"/>
<circle cx="1916.6" cy="1742.9" r="4.8" fill="#000"/>
<line x1="1962.1" y1="1727.5" x2="1962.1" y2="1733.5" stroke="#000" stroke-width="3.1" stroke-linecap="round"/>
<line x1="1955.1" y1="1727.5" x2="1969.1" y2="1727.5" stroke="#000" stroke-width="3.1" stroke-linecap="round"/>
<line x1="1955.1" y1="1733.5" x2="1969.1" y2="1733.5" stroke="#000" stroke-width="3.1" stroke-linecap="round"/>
<circle cx="1950.9" cy="1733.5" r="4.8" fill="#000"/>
<circle cx="1961.3" cy="1726.1" r="4.8" fill="#000"/>
<circle cx="1972.5" cy="1731.7" r="4.8" fill="#000"/>
<polyline points="1432.1,1612.4 1432.1,1588.2 1476.8,1588.2 1476.8,1673.9" fill="none" stroke="#000" stroke-width="3.1"/>
<polyline points="1552.8,1468.2 1552.8,1442.8 1598.7,1442.8 1598.7,1488.3" fill="none" stroke="#000" stroke-width="3.1"/>
<polyline points="1674.3,1493.1 1674.3,1468.2 1720.9,1468.2 1720.9,1513.6" fill="none" stroke="#000" stroke-width="3.1"/>
<polyline points="1797.3,1673.9 1797.3,1649.7 1842.8,1649.7 1842.8,1673.9" fill="none" stroke="#000" stroke-width="3.1"/>
<polyline points="1916.2,1673.9 1916.2,1650.8 1962.1,1650.8 1962.1,1673.9" fill="none" stroke="#000" stroke-width="3.1"/>
<text x="1460.7" y="1571.4" font-size="31.5" text-anchor="middle">41.37%</text>
<text x="1574.4" y="1422.3" font-size="31.5" text-anchor="middle">12.52%</text>
<text x="1695.2" y="1448.4" font-size="31.5" text-anchor="middle">9.81%</text>
<text x="1819.2" y="1629.2" font-size="31.5" text-anchor="middle">1.61%</text>
<text x="1936.5" y="1629.9" font-size="31.5" text-anchor="middle">0.91%</text>
<text x="1432.8" y="1647.8" font-size="32" text-anchor="middle">b</text>
<text x="1476.8" y="1710.4" font-size="32" text-anchor="middle">c</text>
<text x="1552.1" y="1504.3" font-size="32" text-anchor="middle">a</text>
<text x="1599.8" y="1523.0" font-size="32" text-anchor="middle">a</text>
<text x="1673.2" y="1523.0" font-size="32" text-anchor="middle">a</text>
<text x="1720.9" y="1537.9" font-size="32" text-anchor="middle">a</text>
<text x="1795.1" y="1703.7" font-size="32" text-anchor="middle">c</text>
<text x="1840.9" y="1709.3" font-size="32" text-anchor="middle">c</text>
<text x="1915.5" y="1701.9" font-size="32" text-anchor="middle">c</text>
<text x="1962.1" y="1703.7" font-size="32" text-anchor="middle">c</text>
<rect x="1829.1" y="1380.0" width="36.2" height="17.5" fill="#5CA2A6" stroke="#000" stroke-width="3.1"/>
<text x="1888.4" y="1398.1" font-size="31">Mock</text>
<rect x="1829.1" y="1415.5" width="36.2" height="17.5" fill="#CDDFEA" stroke="#000" stroke-width="3.1"/>
<text x="1892.9" y="1433.5" font-size="31">ABA</text>
<text x="1323.2" y="1628.0" font-size="31" text-anchor="middle" transform="rotate(-90 1323.2 1628.0)">Relative expression level</text>
<text x="1471.7" y="1866.7" font-size="31.5" text-anchor="end" transform="rotate(-45 1471.7 1866.7)">WT</text>
<text x="1590.9" y="1865.5" font-size="31.5" text-anchor="end" transform="rotate(-45 1590.9 1865.5)">slrl2-1</text>
<text x="1714.3" y="1866.0" font-size="31.5" text-anchor="end" transform="rotate(-45 1714.3 1866.0)">slrl2-2</text>
<text x="1833.3" y="1862.2" font-size="31.5" text-anchor="end" transform="rotate(-45 1833.3 1862.2)">SLRL2-OX1</text>
<text x="1955.8" y="1864.5" font-size="31.5" text-anchor="end" transform="rotate(-45 1955.8 1864.5)">SLRL2-OX2</text>
</svg></body></html>
